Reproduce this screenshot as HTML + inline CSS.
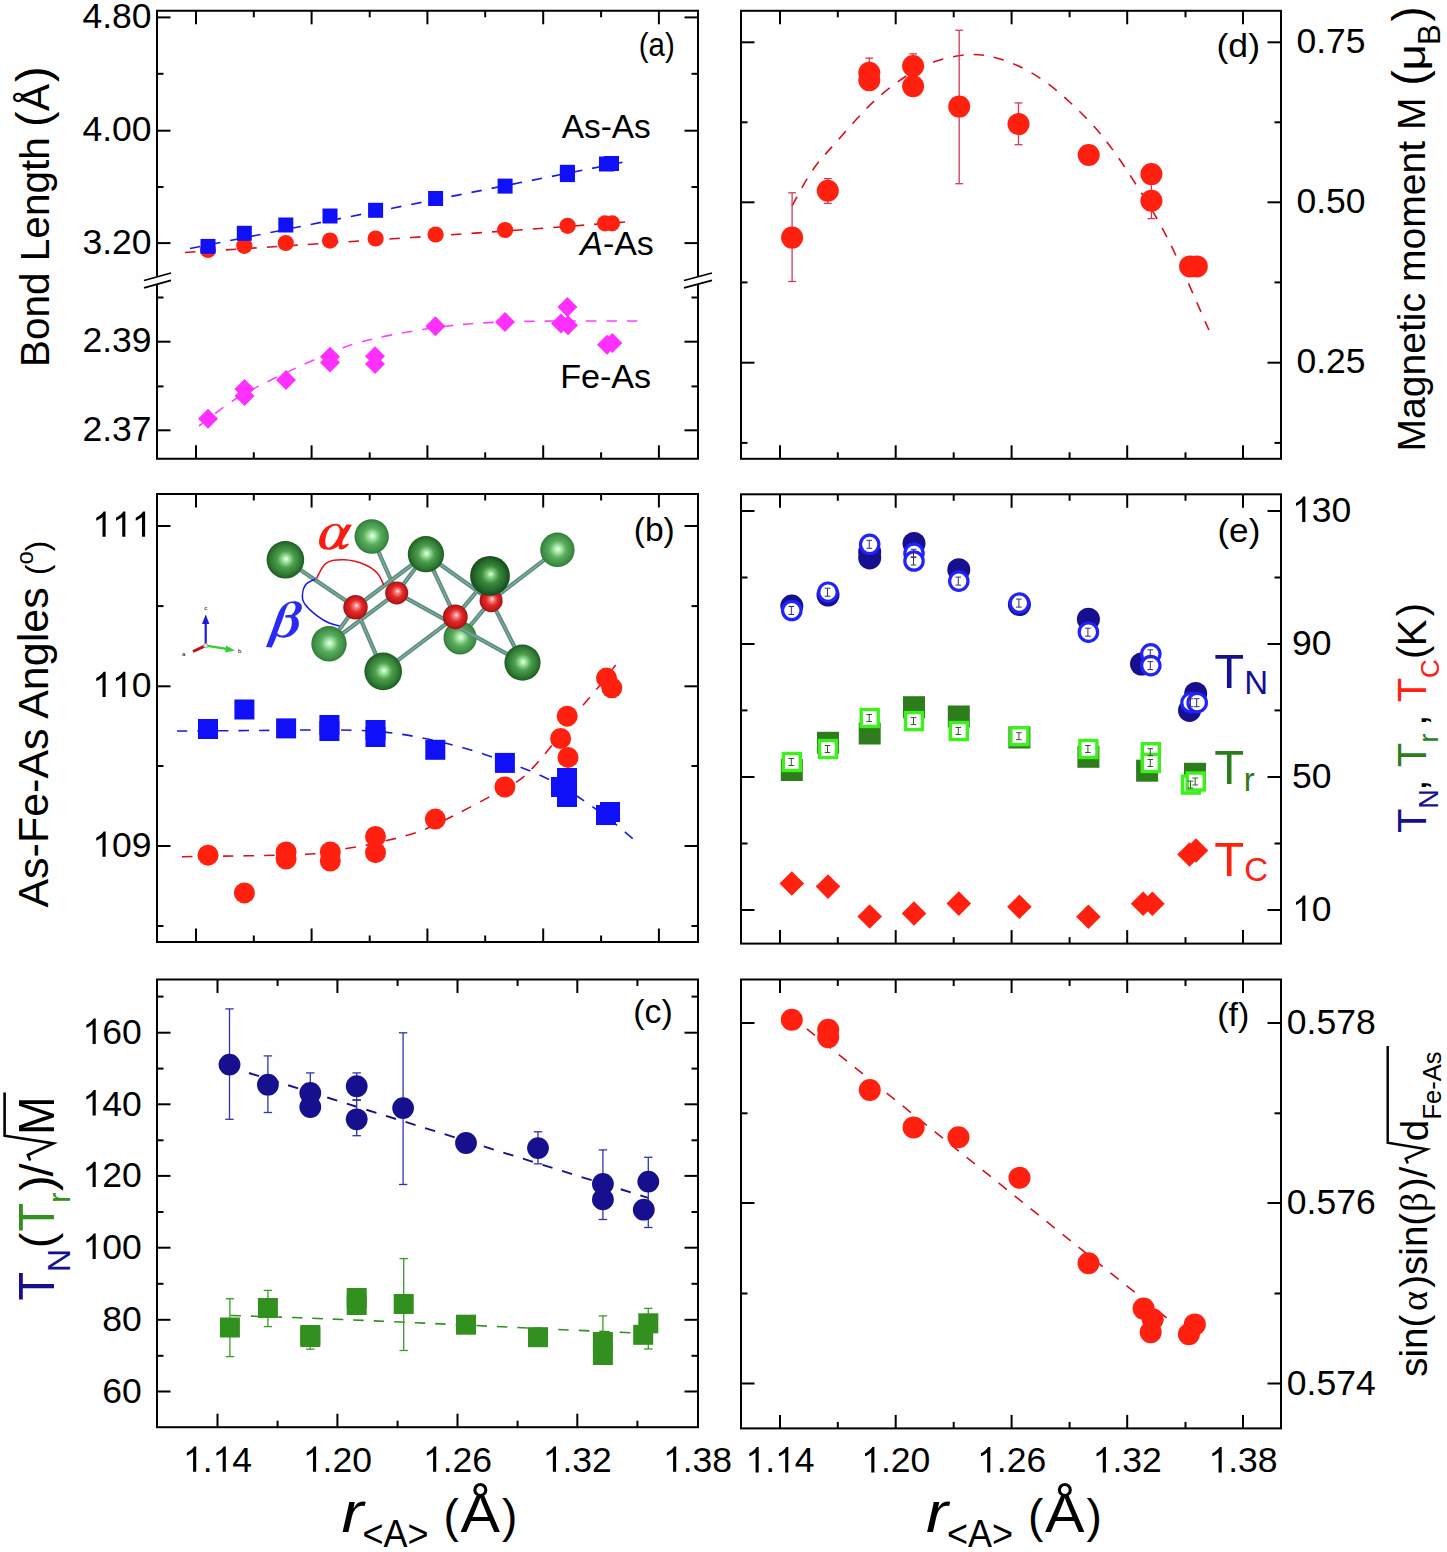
<!DOCTYPE html>
<html><head><meta charset="utf-8"><style>
html,body{margin:0;padding:0;background:#fefefe;}
svg{display:block;}
</style></head><body>
<svg width="1447" height="1552" viewBox="0 0 1447 1552">
<rect width="1447" height="1552" fill="#fefefe"/>
<line x1="196" y1="10.8" x2="196" y2="24.3" stroke="#000" stroke-width="2" />
<line x1="196" y1="458.8" x2="196" y2="445.3" stroke="#000" stroke-width="2" />
<line x1="311.6" y1="10.8" x2="311.6" y2="24.3" stroke="#000" stroke-width="2" />
<line x1="311.6" y1="458.8" x2="311.6" y2="445.3" stroke="#000" stroke-width="2" />
<line x1="427.4" y1="10.8" x2="427.4" y2="24.3" stroke="#000" stroke-width="2" />
<line x1="427.4" y1="458.8" x2="427.4" y2="445.3" stroke="#000" stroke-width="2" />
<line x1="543.2" y1="10.8" x2="543.2" y2="24.3" stroke="#000" stroke-width="2" />
<line x1="543.2" y1="458.8" x2="543.2" y2="445.3" stroke="#000" stroke-width="2" />
<line x1="658.9" y1="10.8" x2="658.9" y2="24.3" stroke="#000" stroke-width="2" />
<line x1="658.9" y1="458.8" x2="658.9" y2="445.3" stroke="#000" stroke-width="2" />
<line x1="253.8" y1="10.8" x2="253.8" y2="17.3" stroke="#000" stroke-width="2" />
<line x1="253.8" y1="458.8" x2="253.8" y2="452.3" stroke="#000" stroke-width="2" />
<line x1="369.7" y1="10.8" x2="369.7" y2="17.3" stroke="#000" stroke-width="2" />
<line x1="369.7" y1="458.8" x2="369.7" y2="452.3" stroke="#000" stroke-width="2" />
<line x1="485.2" y1="10.8" x2="485.2" y2="17.3" stroke="#000" stroke-width="2" />
<line x1="485.2" y1="458.8" x2="485.2" y2="452.3" stroke="#000" stroke-width="2" />
<line x1="601.1" y1="10.8" x2="601.1" y2="17.3" stroke="#000" stroke-width="2" />
<line x1="601.1" y1="458.8" x2="601.1" y2="452.3" stroke="#000" stroke-width="2" />
<line x1="157" y1="17.4" x2="170.5" y2="17.4" stroke="#000" stroke-width="2" />
<line x1="698" y1="17.4" x2="684.5" y2="17.4" stroke="#000" stroke-width="2" />
<line x1="157" y1="130.7" x2="170.5" y2="130.7" stroke="#000" stroke-width="2" />
<line x1="698" y1="130.7" x2="684.5" y2="130.7" stroke="#000" stroke-width="2" />
<line x1="157" y1="243.1" x2="170.5" y2="243.1" stroke="#000" stroke-width="2" />
<line x1="698" y1="243.1" x2="684.5" y2="243.1" stroke="#000" stroke-width="2" />
<line x1="157" y1="341.7" x2="170.5" y2="341.7" stroke="#000" stroke-width="2" />
<line x1="698" y1="341.7" x2="684.5" y2="341.7" stroke="#000" stroke-width="2" />
<line x1="157" y1="430.3" x2="170.5" y2="430.3" stroke="#000" stroke-width="2" />
<line x1="698" y1="430.3" x2="684.5" y2="430.3" stroke="#000" stroke-width="2" />
<line x1="157" y1="73.8" x2="163.5" y2="73.8" stroke="#000" stroke-width="2" />
<line x1="698" y1="73.8" x2="691.5" y2="73.8" stroke="#000" stroke-width="2" />
<line x1="157" y1="187" x2="163.5" y2="187" stroke="#000" stroke-width="2" />
<line x1="698" y1="187" x2="691.5" y2="187" stroke="#000" stroke-width="2" />
<line x1="157" y1="297.5" x2="163.5" y2="297.5" stroke="#000" stroke-width="2" />
<line x1="698" y1="297.5" x2="691.5" y2="297.5" stroke="#000" stroke-width="2" />
<line x1="157" y1="386.4" x2="163.5" y2="386.4" stroke="#000" stroke-width="2" />
<line x1="698" y1="386.4" x2="691.5" y2="386.4" stroke="#000" stroke-width="2" />
<line x1="156" y1="10.8" x2="699" y2="10.8" stroke="#000" stroke-width="2" />
<line x1="156" y1="458.8" x2="699" y2="458.8" stroke="#000" stroke-width="2" />
<line x1="157" y1="10.8" x2="157" y2="276" stroke="#000" stroke-width="2" />
<line x1="157" y1="284" x2="157" y2="458.8" stroke="#000" stroke-width="2" />
<line x1="698" y1="10.8" x2="698" y2="276" stroke="#000" stroke-width="2" />
<line x1="698" y1="284" x2="698" y2="458.8" stroke="#000" stroke-width="2" />
<line x1="144" y1="280.5" x2="171" y2="273" stroke="#000" stroke-width="1.8" />
<line x1="144" y1="287.8" x2="171" y2="280.3" stroke="#000" stroke-width="1.8" />
<line x1="684" y1="280.5" x2="712" y2="273" stroke="#000" stroke-width="1.8" />
<line x1="684" y1="287.8" x2="712" y2="280.3" stroke="#000" stroke-width="1.8" />
<text x="82.52 102.25 112.12 131.86" y="28" font-family='"Liberation Sans", sans-serif' font-size="35.5" fill="#000">4.80</text>
<text x="82.52 102.25 112.12 131.86" y="141.3" font-family='"Liberation Sans", sans-serif' font-size="35.5" fill="#000">4.00</text>
<text x="82.52 102.25 112.12 131.86" y="253.7" font-family='"Liberation Sans", sans-serif' font-size="35.5" fill="#000">3.20</text>
<text x="82.52 102.25 112.12 131.86" y="352.3" font-family='"Liberation Sans", sans-serif' font-size="35.5" fill="#000">2.39</text>
<text x="82.52 102.25 112.12 131.86" y="440.9" font-family='"Liberation Sans", sans-serif' font-size="35.5" fill="#000">2.37</text>
<text transform="translate(48.7,367) rotate(-90)" x="0" y="0" font-family='"Liberation Sans", sans-serif' font-size="40.5" fill="#000" >Bond Length</text>
<text x="638.8" y="55.6" font-family='"Liberation Sans", sans-serif' font-size="33" fill="#000" textLength="36" lengthAdjust="spacingAndGlyphs" >(a)</text>
<path d="M190,248.5 L629,161" fill="none" stroke="#1a1ae0" stroke-width="1.6" stroke-dasharray="10.5 10" stroke-dashoffset="0"/>
<path d="M185,252.5 C209.17,250.92 276.67,246.58 330,243 C383.33,239.42 454.67,234.58 505,231 C555.33,227.42 610.83,223.08 632,221.5" fill="none" stroke="#d8101e" stroke-width="1.6" stroke-dasharray="10.5 10" stroke-dashoffset="0"/>
<path d="M199,426 C206.5,420.67 223.33,405.67 244,394 C264.67,382.33 301.5,365.17 323,356 C344.5,346.83 352.17,344 373,339 C393.83,334 423.5,328.92 448,326 C472.5,323.08 487.67,322.33 520,321.5 C552.33,320.67 621.67,321.08 642,321" fill="none" stroke="#ff40ff" stroke-width="1.6" stroke-dasharray="10.5 10" stroke-dashoffset="0"/>
<circle cx="208" cy="250" r="8.1" fill="#ff2010"/>
<circle cx="244.3" cy="245.8" r="8.1" fill="#ff2010"/>
<circle cx="285.8" cy="243" r="8.1" fill="#ff2010"/>
<circle cx="330" cy="240.6" r="8.1" fill="#ff2010"/>
<circle cx="375.6" cy="238.5" r="8.1" fill="#ff2010"/>
<circle cx="435.6" cy="234.5" r="8.1" fill="#ff2010"/>
<circle cx="505.1" cy="230" r="8.1" fill="#ff2010"/>
<circle cx="567.6" cy="225.8" r="8.1" fill="#ff2010"/>
<circle cx="605" cy="223.3" r="8.1" fill="#ff2010"/>
<circle cx="612" cy="223.3" r="8.1" fill="#ff2010"/>
<rect x="200.5" y="238.9" width="15" height="15" fill="#1010f8"/>
<rect x="236.8" y="225.8" width="15" height="15" fill="#1010f8"/>
<rect x="278.3" y="217.5" width="15" height="15" fill="#1010f8"/>
<rect x="322.5" y="208.5" width="15" height="15" fill="#1010f8"/>
<rect x="368.1" y="202.8" width="15" height="15" fill="#1010f8"/>
<rect x="428.1" y="191" width="15" height="15" fill="#1010f8"/>
<rect x="497.6" y="178.6" width="15" height="15" fill="#1010f8"/>
<rect x="559.9" y="164.8" width="15" height="15" fill="#1010f8"/>
<rect x="559.9" y="167.1" width="15" height="15" fill="#1010f8"/>
<rect x="599" y="156.5" width="15" height="15" fill="#1010f8"/>
<rect x="604" y="156" width="15" height="15" fill="#1010f8"/>
<polygon points="208,408.7 218,418.7 208,428.7 198,418.7" fill="#ff30ff"/>
<polygon points="244.5,379 254.5,389 244.5,399 234.5,389" fill="#ff30ff"/>
<polygon points="244.5,386 254.5,396 244.5,406 234.5,396" fill="#ff30ff"/>
<polygon points="286,370 296,380 286,390 276,380" fill="#ff30ff"/>
<polygon points="330,346.7 340,356.7 330,366.7 320,356.7" fill="#ff30ff"/>
<polygon points="330,352.6 340,362.6 330,372.6 320,362.6" fill="#ff30ff"/>
<polygon points="375,346.2 385,356.2 375,366.2 365,356.2" fill="#ff30ff"/>
<polygon points="375,353.9 385,363.9 375,373.9 365,363.9" fill="#ff30ff"/>
<polygon points="435.4,316.3 445.4,326.3 435.4,336.3 425.4,326.3" fill="#ff30ff"/>
<polygon points="505,311.9 515,321.9 505,331.9 495,321.9" fill="#ff30ff"/>
<polygon points="567.4,296.9 577.4,306.9 567.4,316.9 557.4,306.9" fill="#ff30ff"/>
<polygon points="561,313.5 571,323.5 561,333.5 551,323.5" fill="#ff30ff"/>
<polygon points="568,315.2 578,325.2 568,335.2 558,325.2" fill="#ff30ff"/>
<polygon points="607,334.7 617,344.7 607,354.7 597,344.7" fill="#ff30ff"/>
<polygon points="612.3,333 622.3,343 612.3,353 602.3,343" fill="#ff30ff"/>
<text x="561.8" y="137.7" font-family='"Liberation Sans", sans-serif' font-size="33" fill="#000" textLength="89" lengthAdjust="spacingAndGlyphs" >As-As</text>
<text x="580.3" y="254.8" font-family='"Liberation Sans", sans-serif' font-size="33" fill="#000" textLength="73.5" lengthAdjust="spacingAndGlyphs" ><tspan font-style="italic">A</tspan>-As</text>
<text x="560.2" y="387.8" font-family='"Liberation Sans", sans-serif' font-size="33" fill="#000" textLength="91" lengthAdjust="spacingAndGlyphs" >Fe-As</text>
<line x1="196" y1="494" x2="196" y2="507.5" stroke="#000" stroke-width="2" />
<line x1="196" y1="942" x2="196" y2="928.5" stroke="#000" stroke-width="2" />
<line x1="311.6" y1="494" x2="311.6" y2="507.5" stroke="#000" stroke-width="2" />
<line x1="311.6" y1="942" x2="311.6" y2="928.5" stroke="#000" stroke-width="2" />
<line x1="427.4" y1="494" x2="427.4" y2="507.5" stroke="#000" stroke-width="2" />
<line x1="427.4" y1="942" x2="427.4" y2="928.5" stroke="#000" stroke-width="2" />
<line x1="543.2" y1="494" x2="543.2" y2="507.5" stroke="#000" stroke-width="2" />
<line x1="543.2" y1="942" x2="543.2" y2="928.5" stroke="#000" stroke-width="2" />
<line x1="658.9" y1="494" x2="658.9" y2="507.5" stroke="#000" stroke-width="2" />
<line x1="658.9" y1="942" x2="658.9" y2="928.5" stroke="#000" stroke-width="2" />
<line x1="253.8" y1="494" x2="253.8" y2="500.5" stroke="#000" stroke-width="2" />
<line x1="253.8" y1="942" x2="253.8" y2="935.5" stroke="#000" stroke-width="2" />
<line x1="369.7" y1="494" x2="369.7" y2="500.5" stroke="#000" stroke-width="2" />
<line x1="369.7" y1="942" x2="369.7" y2="935.5" stroke="#000" stroke-width="2" />
<line x1="485.2" y1="494" x2="485.2" y2="500.5" stroke="#000" stroke-width="2" />
<line x1="485.2" y1="942" x2="485.2" y2="935.5" stroke="#000" stroke-width="2" />
<line x1="601.1" y1="494" x2="601.1" y2="500.5" stroke="#000" stroke-width="2" />
<line x1="601.1" y1="942" x2="601.1" y2="935.5" stroke="#000" stroke-width="2" />
<line x1="157" y1="526" x2="170.5" y2="526" stroke="#000" stroke-width="2" />
<line x1="698" y1="526" x2="684.5" y2="526" stroke="#000" stroke-width="2" />
<line x1="157" y1="686.3" x2="170.5" y2="686.3" stroke="#000" stroke-width="2" />
<line x1="698" y1="686.3" x2="684.5" y2="686.3" stroke="#000" stroke-width="2" />
<line x1="157" y1="846" x2="170.5" y2="846" stroke="#000" stroke-width="2" />
<line x1="698" y1="846" x2="684.5" y2="846" stroke="#000" stroke-width="2" />
<line x1="157" y1="606.1" x2="163.5" y2="606.1" stroke="#000" stroke-width="2" />
<line x1="698" y1="606.1" x2="691.5" y2="606.1" stroke="#000" stroke-width="2" />
<line x1="157" y1="766" x2="163.5" y2="766" stroke="#000" stroke-width="2" />
<line x1="698" y1="766" x2="691.5" y2="766" stroke="#000" stroke-width="2" />
<line x1="157" y1="926" x2="163.5" y2="926" stroke="#000" stroke-width="2" />
<line x1="698" y1="926" x2="691.5" y2="926" stroke="#000" stroke-width="2" />
<rect x="157" y="494" width="541" height="448" fill="none" stroke="#000" stroke-width="2"/>
<path d="M0.373,0 L0.285,0 L0.285,-0.560 C0.264,-0.540 0.236,-0.519 0.201,-0.499 C0.167,-0.478 0.136,-0.463 0.109,-0.453 L0.109,-0.538 C0.158,-0.561 0.201,-0.589 0.238,-0.622 C0.275,-0.655 0.301,-0.687 0.316,-0.716 L0.373,-0.716 Z" transform="translate(92.39,536.8) scale(35.5)" fill="#000"/>
<path d="M0.373,0 L0.285,0 L0.285,-0.560 C0.264,-0.540 0.236,-0.519 0.201,-0.499 C0.167,-0.478 0.136,-0.463 0.109,-0.453 L0.109,-0.538 C0.158,-0.561 0.201,-0.589 0.238,-0.622 C0.275,-0.655 0.301,-0.687 0.316,-0.716 L0.373,-0.716 Z" transform="translate(112.12,536.8) scale(35.5)" fill="#000"/>
<path d="M0.373,0 L0.285,0 L0.285,-0.560 C0.264,-0.540 0.236,-0.519 0.201,-0.499 C0.167,-0.478 0.136,-0.463 0.109,-0.453 L0.109,-0.538 C0.158,-0.561 0.201,-0.589 0.238,-0.622 C0.275,-0.655 0.301,-0.687 0.316,-0.716 L0.373,-0.716 Z" transform="translate(131.86,536.8) scale(35.5)" fill="#000"/>
<path d="M0.373,0 L0.285,0 L0.285,-0.560 C0.264,-0.540 0.236,-0.519 0.201,-0.499 C0.167,-0.478 0.136,-0.463 0.109,-0.453 L0.109,-0.538 C0.158,-0.561 0.201,-0.589 0.238,-0.622 C0.275,-0.655 0.301,-0.687 0.316,-0.716 L0.373,-0.716 Z" transform="translate(92.39,697.1) scale(35.5)" fill="#000"/>
<path d="M0.373,0 L0.285,0 L0.285,-0.560 C0.264,-0.540 0.236,-0.519 0.201,-0.499 C0.167,-0.478 0.136,-0.463 0.109,-0.453 L0.109,-0.538 C0.158,-0.561 0.201,-0.589 0.238,-0.622 C0.275,-0.655 0.301,-0.687 0.316,-0.716 L0.373,-0.716 Z" transform="translate(112.12,697.1) scale(35.5)" fill="#000"/>
<text x="131.86" y="697.1" font-family='"Liberation Sans", sans-serif' font-size="35.5" fill="#000">0</text>
<path d="M0.373,0 L0.285,0 L0.285,-0.560 C0.264,-0.540 0.236,-0.519 0.201,-0.499 C0.167,-0.478 0.136,-0.463 0.109,-0.453 L0.109,-0.538 C0.158,-0.561 0.201,-0.589 0.238,-0.622 C0.275,-0.655 0.301,-0.687 0.316,-0.716 L0.373,-0.716 Z" transform="translate(92.39,856.8) scale(35.5)" fill="#000"/>
<text x="112.12 131.86" y="856.8" font-family='"Liberation Sans", sans-serif' font-size="35.5" fill="#000">09</text>
<text x="633.8" y="541.2" font-family='"Liberation Sans", sans-serif' font-size="33" fill="#000" textLength="41" lengthAdjust="spacingAndGlyphs" >(b)</text>
<text transform="translate(48.4,907.6) rotate(-90)" x="0" y="0" font-family='"Liberation Sans", sans-serif' font-size="43" fill="#000" >As-Fe-As Angles</text>
<line x1="217.5" y1="979.5" x2="217.5" y2="993" stroke="#000" stroke-width="2" />
<line x1="217.5" y1="1427.2" x2="217.5" y2="1413.7" stroke="#000" stroke-width="2" />
<line x1="337.4" y1="979.5" x2="337.4" y2="993" stroke="#000" stroke-width="2" />
<line x1="337.4" y1="1427.2" x2="337.4" y2="1413.7" stroke="#000" stroke-width="2" />
<line x1="457.5" y1="979.5" x2="457.5" y2="993" stroke="#000" stroke-width="2" />
<line x1="457.5" y1="1427.2" x2="457.5" y2="1413.7" stroke="#000" stroke-width="2" />
<line x1="577.3" y1="979.5" x2="577.3" y2="993" stroke="#000" stroke-width="2" />
<line x1="577.3" y1="1427.2" x2="577.3" y2="1413.7" stroke="#000" stroke-width="2" />
<line x1="277.6" y1="979.5" x2="277.6" y2="986" stroke="#000" stroke-width="2" />
<line x1="277.6" y1="1427.2" x2="277.6" y2="1420.7" stroke="#000" stroke-width="2" />
<line x1="397.6" y1="979.5" x2="397.6" y2="986" stroke="#000" stroke-width="2" />
<line x1="397.6" y1="1427.2" x2="397.6" y2="1420.7" stroke="#000" stroke-width="2" />
<line x1="517.6" y1="979.5" x2="517.6" y2="986" stroke="#000" stroke-width="2" />
<line x1="517.6" y1="1427.2" x2="517.6" y2="1420.7" stroke="#000" stroke-width="2" />
<line x1="637.4" y1="979.5" x2="637.4" y2="986" stroke="#000" stroke-width="2" />
<line x1="637.4" y1="1427.2" x2="637.4" y2="1420.7" stroke="#000" stroke-width="2" />
<line x1="157" y1="1032.7" x2="170.5" y2="1032.7" stroke="#000" stroke-width="2" />
<line x1="698" y1="1032.7" x2="684.5" y2="1032.7" stroke="#000" stroke-width="2" />
<line x1="157" y1="1104.3" x2="170.5" y2="1104.3" stroke="#000" stroke-width="2" />
<line x1="698" y1="1104.3" x2="684.5" y2="1104.3" stroke="#000" stroke-width="2" />
<line x1="157" y1="1175.9" x2="170.5" y2="1175.9" stroke="#000" stroke-width="2" />
<line x1="698" y1="1175.9" x2="684.5" y2="1175.9" stroke="#000" stroke-width="2" />
<line x1="157" y1="1247.7" x2="170.5" y2="1247.7" stroke="#000" stroke-width="2" />
<line x1="698" y1="1247.7" x2="684.5" y2="1247.7" stroke="#000" stroke-width="2" />
<line x1="157" y1="1319.8" x2="170.5" y2="1319.8" stroke="#000" stroke-width="2" />
<line x1="698" y1="1319.8" x2="684.5" y2="1319.8" stroke="#000" stroke-width="2" />
<line x1="157" y1="1391.5" x2="170.5" y2="1391.5" stroke="#000" stroke-width="2" />
<line x1="698" y1="1391.5" x2="684.5" y2="1391.5" stroke="#000" stroke-width="2" />
<line x1="157" y1="996.6" x2="163.5" y2="996.6" stroke="#000" stroke-width="2" />
<line x1="698" y1="996.6" x2="691.5" y2="996.6" stroke="#000" stroke-width="2" />
<line x1="157" y1="1068.6" x2="163.5" y2="1068.6" stroke="#000" stroke-width="2" />
<line x1="698" y1="1068.6" x2="691.5" y2="1068.6" stroke="#000" stroke-width="2" />
<line x1="157" y1="1140.3" x2="163.5" y2="1140.3" stroke="#000" stroke-width="2" />
<line x1="698" y1="1140.3" x2="691.5" y2="1140.3" stroke="#000" stroke-width="2" />
<line x1="157" y1="1212" x2="163.5" y2="1212" stroke="#000" stroke-width="2" />
<line x1="698" y1="1212" x2="691.5" y2="1212" stroke="#000" stroke-width="2" />
<line x1="157" y1="1283.8" x2="163.5" y2="1283.8" stroke="#000" stroke-width="2" />
<line x1="698" y1="1283.8" x2="691.5" y2="1283.8" stroke="#000" stroke-width="2" />
<line x1="157" y1="1355.8" x2="163.5" y2="1355.8" stroke="#000" stroke-width="2" />
<line x1="698" y1="1355.8" x2="691.5" y2="1355.8" stroke="#000" stroke-width="2" />
<rect x="157" y="979.5" width="541" height="447.7" fill="none" stroke="#000" stroke-width="2"/>
<path d="M0.373,0 L0.285,0 L0.285,-0.560 C0.264,-0.540 0.236,-0.519 0.201,-0.499 C0.167,-0.478 0.136,-0.463 0.109,-0.453 L0.109,-0.538 C0.158,-0.561 0.201,-0.589 0.238,-0.622 C0.275,-0.655 0.301,-0.687 0.316,-0.716 L0.373,-0.716 Z" transform="translate(82.49,1043.9) scale(35.5)" fill="#000"/>
<text x="102.22 121.96" y="1043.9" font-family='"Liberation Sans", sans-serif' font-size="35.5" fill="#000">60</text>
<path d="M0.373,0 L0.285,0 L0.285,-0.560 C0.264,-0.540 0.236,-0.519 0.201,-0.499 C0.167,-0.478 0.136,-0.463 0.109,-0.453 L0.109,-0.538 C0.158,-0.561 0.201,-0.589 0.238,-0.622 C0.275,-0.655 0.301,-0.687 0.316,-0.716 L0.373,-0.716 Z" transform="translate(82.49,1115.5) scale(35.5)" fill="#000"/>
<text x="102.22 121.96" y="1115.5" font-family='"Liberation Sans", sans-serif' font-size="35.5" fill="#000">40</text>
<path d="M0.373,0 L0.285,0 L0.285,-0.560 C0.264,-0.540 0.236,-0.519 0.201,-0.499 C0.167,-0.478 0.136,-0.463 0.109,-0.453 L0.109,-0.538 C0.158,-0.561 0.201,-0.589 0.238,-0.622 C0.275,-0.655 0.301,-0.687 0.316,-0.716 L0.373,-0.716 Z" transform="translate(82.49,1187.1) scale(35.5)" fill="#000"/>
<text x="102.22 121.96" y="1187.1" font-family='"Liberation Sans", sans-serif' font-size="35.5" fill="#000">20</text>
<path d="M0.373,0 L0.285,0 L0.285,-0.560 C0.264,-0.540 0.236,-0.519 0.201,-0.499 C0.167,-0.478 0.136,-0.463 0.109,-0.453 L0.109,-0.538 C0.158,-0.561 0.201,-0.589 0.238,-0.622 C0.275,-0.655 0.301,-0.687 0.316,-0.716 L0.373,-0.716 Z" transform="translate(82.49,1258.9) scale(35.5)" fill="#000"/>
<text x="102.22 121.96" y="1258.9" font-family='"Liberation Sans", sans-serif' font-size="35.5" fill="#000">00</text>
<text x="102.22 121.96" y="1331" font-family='"Liberation Sans", sans-serif' font-size="35.5" fill="#000">80</text>
<text x="102.22 121.96" y="1402.7" font-family='"Liberation Sans", sans-serif' font-size="35.5" fill="#000">60</text>
<text x="633.3" y="1022.5" font-family='"Liberation Sans", sans-serif' font-size="33" fill="#000" textLength="39.5" lengthAdjust="spacingAndGlyphs" >(c)</text>
<path d="M0.373,0 L0.285,0 L0.285,-0.560 C0.264,-0.540 0.236,-0.519 0.201,-0.499 C0.167,-0.478 0.136,-0.463 0.109,-0.453 L0.109,-0.538 C0.158,-0.561 0.201,-0.589 0.238,-0.622 C0.275,-0.655 0.301,-0.687 0.316,-0.716 L0.373,-0.716 Z" transform="translate(182.96,1471.8) scale(35.5)" fill="#000"/>
<path d="M0.373,0 L0.285,0 L0.285,-0.560 C0.264,-0.540 0.236,-0.519 0.201,-0.499 C0.167,-0.478 0.136,-0.463 0.109,-0.453 L0.109,-0.538 C0.158,-0.561 0.201,-0.589 0.238,-0.622 C0.275,-0.655 0.301,-0.687 0.316,-0.716 L0.373,-0.716 Z" transform="translate(212.57,1471.8) scale(35.5)" fill="#000"/>
<text x="202.7 232.3" y="1471.8" font-family='"Liberation Sans", sans-serif' font-size="35.5" fill="#000">.4</text>
<path d="M0.373,0 L0.285,0 L0.285,-0.560 C0.264,-0.540 0.236,-0.519 0.201,-0.499 C0.167,-0.478 0.136,-0.463 0.109,-0.453 L0.109,-0.538 C0.158,-0.561 0.201,-0.589 0.238,-0.622 C0.275,-0.655 0.301,-0.687 0.316,-0.716 L0.373,-0.716 Z" transform="translate(302.86,1471.8) scale(35.5)" fill="#000"/>
<text x="322.6 332.47 352.2" y="1471.8" font-family='"Liberation Sans", sans-serif' font-size="35.5" fill="#000">.20</text>
<path d="M0.373,0 L0.285,0 L0.285,-0.560 C0.264,-0.540 0.236,-0.519 0.201,-0.499 C0.167,-0.478 0.136,-0.463 0.109,-0.453 L0.109,-0.538 C0.158,-0.561 0.201,-0.589 0.238,-0.622 C0.275,-0.655 0.301,-0.687 0.316,-0.716 L0.373,-0.716 Z" transform="translate(422.96,1471.8) scale(35.5)" fill="#000"/>
<text x="442.7 452.57 472.3" y="1471.8" font-family='"Liberation Sans", sans-serif' font-size="35.5" fill="#000">.26</text>
<path d="M0.373,0 L0.285,0 L0.285,-0.560 C0.264,-0.540 0.236,-0.519 0.201,-0.499 C0.167,-0.478 0.136,-0.463 0.109,-0.453 L0.109,-0.538 C0.158,-0.561 0.201,-0.589 0.238,-0.622 C0.275,-0.655 0.301,-0.687 0.316,-0.716 L0.373,-0.716 Z" transform="translate(542.76,1471.8) scale(35.5)" fill="#000"/>
<text x="562.5 572.37 592.1" y="1471.8" font-family='"Liberation Sans", sans-serif' font-size="35.5" fill="#000">.32</text>
<path d="M0.373,0 L0.285,0 L0.285,-0.560 C0.264,-0.540 0.236,-0.519 0.201,-0.499 C0.167,-0.478 0.136,-0.463 0.109,-0.453 L0.109,-0.538 C0.158,-0.561 0.201,-0.589 0.238,-0.622 C0.275,-0.655 0.301,-0.687 0.316,-0.716 L0.373,-0.716 Z" transform="translate(662.96,1471.8) scale(35.5)" fill="#000"/>
<text x="682.7 692.57 712.3" y="1471.8" font-family='"Liberation Sans", sans-serif' font-size="35.5" fill="#000">.38</text>
<path d="M0.373,0 L0.285,0 L0.285,-0.560 C0.264,-0.540 0.236,-0.519 0.201,-0.499 C0.167,-0.478 0.136,-0.463 0.109,-0.453 L0.109,-0.538 C0.158,-0.561 0.201,-0.589 0.238,-0.622 C0.275,-0.655 0.301,-0.687 0.316,-0.716 L0.373,-0.716 Z" transform="translate(745.46,1472.4) scale(35.5)" fill="#000"/>
<path d="M0.373,0 L0.285,0 L0.285,-0.560 C0.264,-0.540 0.236,-0.519 0.201,-0.499 C0.167,-0.478 0.136,-0.463 0.109,-0.453 L0.109,-0.538 C0.158,-0.561 0.201,-0.589 0.238,-0.622 C0.275,-0.655 0.301,-0.687 0.316,-0.716 L0.373,-0.716 Z" transform="translate(775.07,1472.4) scale(35.5)" fill="#000"/>
<text x="765.2 794.8" y="1472.4" font-family='"Liberation Sans", sans-serif' font-size="35.5" fill="#000">.4</text>
<path d="M0.373,0 L0.285,0 L0.285,-0.560 C0.264,-0.540 0.236,-0.519 0.201,-0.499 C0.167,-0.478 0.136,-0.463 0.109,-0.453 L0.109,-0.538 C0.158,-0.561 0.201,-0.589 0.238,-0.622 C0.275,-0.655 0.301,-0.687 0.316,-0.716 L0.373,-0.716 Z" transform="translate(861.16,1472.4) scale(35.5)" fill="#000"/>
<text x="880.9 890.77 910.5" y="1472.4" font-family='"Liberation Sans", sans-serif' font-size="35.5" fill="#000">.20</text>
<path d="M0.373,0 L0.285,0 L0.285,-0.560 C0.264,-0.540 0.236,-0.519 0.201,-0.499 C0.167,-0.478 0.136,-0.463 0.109,-0.453 L0.109,-0.538 C0.158,-0.561 0.201,-0.589 0.238,-0.622 C0.275,-0.655 0.301,-0.687 0.316,-0.716 L0.373,-0.716 Z" transform="translate(977.06,1472.4) scale(35.5)" fill="#000"/>
<text x="996.8 1006.67 1026.4" y="1472.4" font-family='"Liberation Sans", sans-serif' font-size="35.5" fill="#000">.26</text>
<path d="M0.373,0 L0.285,0 L0.285,-0.560 C0.264,-0.540 0.236,-0.519 0.201,-0.499 C0.167,-0.478 0.136,-0.463 0.109,-0.453 L0.109,-0.538 C0.158,-0.561 0.201,-0.589 0.238,-0.622 C0.275,-0.655 0.301,-0.687 0.316,-0.716 L0.373,-0.716 Z" transform="translate(1092.66,1472.4) scale(35.5)" fill="#000"/>
<text x="1112.4 1122.27 1142" y="1472.4" font-family='"Liberation Sans", sans-serif' font-size="35.5" fill="#000">.32</text>
<path d="M0.373,0 L0.285,0 L0.285,-0.560 C0.264,-0.540 0.236,-0.519 0.201,-0.499 C0.167,-0.478 0.136,-0.463 0.109,-0.453 L0.109,-0.538 C0.158,-0.561 0.201,-0.589 0.238,-0.622 C0.275,-0.655 0.301,-0.687 0.316,-0.716 L0.373,-0.716 Z" transform="translate(1208.46,1472.4) scale(35.5)" fill="#000"/>
<text x="1228.2 1238.07 1257.8" y="1472.4" font-family='"Liberation Sans", sans-serif' font-size="35.5" fill="#000">.38</text>
<line x1="780" y1="10.8" x2="780" y2="24.3" stroke="#000" stroke-width="2" />
<line x1="780" y1="458.8" x2="780" y2="445.3" stroke="#000" stroke-width="2" />
<line x1="895.7" y1="10.8" x2="895.7" y2="24.3" stroke="#000" stroke-width="2" />
<line x1="895.7" y1="458.8" x2="895.7" y2="445.3" stroke="#000" stroke-width="2" />
<line x1="1011.6" y1="10.8" x2="1011.6" y2="24.3" stroke="#000" stroke-width="2" />
<line x1="1011.6" y1="458.8" x2="1011.6" y2="445.3" stroke="#000" stroke-width="2" />
<line x1="1127.2" y1="10.8" x2="1127.2" y2="24.3" stroke="#000" stroke-width="2" />
<line x1="1127.2" y1="458.8" x2="1127.2" y2="445.3" stroke="#000" stroke-width="2" />
<line x1="1243" y1="10.8" x2="1243" y2="24.3" stroke="#000" stroke-width="2" />
<line x1="1243" y1="458.8" x2="1243" y2="445.3" stroke="#000" stroke-width="2" />
<line x1="837.8" y1="10.8" x2="837.8" y2="17.3" stroke="#000" stroke-width="2" />
<line x1="837.8" y1="458.8" x2="837.8" y2="452.3" stroke="#000" stroke-width="2" />
<line x1="953.7" y1="10.8" x2="953.7" y2="17.3" stroke="#000" stroke-width="2" />
<line x1="953.7" y1="458.8" x2="953.7" y2="452.3" stroke="#000" stroke-width="2" />
<line x1="1069.6" y1="10.8" x2="1069.6" y2="17.3" stroke="#000" stroke-width="2" />
<line x1="1069.6" y1="458.8" x2="1069.6" y2="452.3" stroke="#000" stroke-width="2" />
<line x1="1185.5" y1="10.8" x2="1185.5" y2="17.3" stroke="#000" stroke-width="2" />
<line x1="1185.5" y1="458.8" x2="1185.5" y2="452.3" stroke="#000" stroke-width="2" />
<line x1="741" y1="42.3" x2="754.5" y2="42.3" stroke="#000" stroke-width="2" />
<line x1="1281" y1="42.3" x2="1267.5" y2="42.3" stroke="#000" stroke-width="2" />
<line x1="741" y1="202.3" x2="754.5" y2="202.3" stroke="#000" stroke-width="2" />
<line x1="1281" y1="202.3" x2="1267.5" y2="202.3" stroke="#000" stroke-width="2" />
<line x1="741" y1="362.7" x2="754.5" y2="362.7" stroke="#000" stroke-width="2" />
<line x1="1281" y1="362.7" x2="1267.5" y2="362.7" stroke="#000" stroke-width="2" />
<line x1="741" y1="122.3" x2="747.5" y2="122.3" stroke="#000" stroke-width="2" />
<line x1="1281" y1="122.3" x2="1274.5" y2="122.3" stroke="#000" stroke-width="2" />
<line x1="741" y1="282.4" x2="747.5" y2="282.4" stroke="#000" stroke-width="2" />
<line x1="1281" y1="282.4" x2="1274.5" y2="282.4" stroke="#000" stroke-width="2" />
<line x1="741" y1="442.9" x2="747.5" y2="442.9" stroke="#000" stroke-width="2" />
<line x1="1281" y1="442.9" x2="1274.5" y2="442.9" stroke="#000" stroke-width="2" />
<rect x="741" y="10.8" width="540" height="448" fill="none" stroke="#000" stroke-width="2"/>
<text x="1296.5 1316.24 1326.11 1345.85" y="52.7" font-family='"Liberation Sans", sans-serif' font-size="35.5" fill="#000">0.75</text>
<text x="1296.5 1316.24 1326.11 1345.85" y="212.7" font-family='"Liberation Sans", sans-serif' font-size="35.5" fill="#000">0.50</text>
<text x="1296.5 1316.24 1326.11 1345.85" y="373.1" font-family='"Liberation Sans", sans-serif' font-size="35.5" fill="#000">0.25</text>
<text x="1216.5" y="57.2" font-family='"Liberation Sans", sans-serif' font-size="33" fill="#000" textLength="43.5" lengthAdjust="spacingAndGlyphs" >(d)</text>
<line x1="780" y1="494.3" x2="780" y2="507.8" stroke="#000" stroke-width="2" />
<line x1="780" y1="943.6" x2="780" y2="930.1" stroke="#000" stroke-width="2" />
<line x1="895.7" y1="494.3" x2="895.7" y2="507.8" stroke="#000" stroke-width="2" />
<line x1="895.7" y1="943.6" x2="895.7" y2="930.1" stroke="#000" stroke-width="2" />
<line x1="1011.6" y1="494.3" x2="1011.6" y2="507.8" stroke="#000" stroke-width="2" />
<line x1="1011.6" y1="943.6" x2="1011.6" y2="930.1" stroke="#000" stroke-width="2" />
<line x1="1127.2" y1="494.3" x2="1127.2" y2="507.8" stroke="#000" stroke-width="2" />
<line x1="1127.2" y1="943.6" x2="1127.2" y2="930.1" stroke="#000" stroke-width="2" />
<line x1="1243" y1="494.3" x2="1243" y2="507.8" stroke="#000" stroke-width="2" />
<line x1="1243" y1="943.6" x2="1243" y2="930.1" stroke="#000" stroke-width="2" />
<line x1="837.8" y1="494.3" x2="837.8" y2="500.8" stroke="#000" stroke-width="2" />
<line x1="837.8" y1="943.6" x2="837.8" y2="937.1" stroke="#000" stroke-width="2" />
<line x1="953.7" y1="494.3" x2="953.7" y2="500.8" stroke="#000" stroke-width="2" />
<line x1="953.7" y1="943.6" x2="953.7" y2="937.1" stroke="#000" stroke-width="2" />
<line x1="1069.6" y1="494.3" x2="1069.6" y2="500.8" stroke="#000" stroke-width="2" />
<line x1="1069.6" y1="943.6" x2="1069.6" y2="937.1" stroke="#000" stroke-width="2" />
<line x1="1185.5" y1="494.3" x2="1185.5" y2="500.8" stroke="#000" stroke-width="2" />
<line x1="1185.5" y1="943.6" x2="1185.5" y2="937.1" stroke="#000" stroke-width="2" />
<line x1="741" y1="511" x2="754.5" y2="511" stroke="#000" stroke-width="2" />
<line x1="1281" y1="511" x2="1267.5" y2="511" stroke="#000" stroke-width="2" />
<line x1="741" y1="644" x2="754.5" y2="644" stroke="#000" stroke-width="2" />
<line x1="1281" y1="644" x2="1267.5" y2="644" stroke="#000" stroke-width="2" />
<line x1="741" y1="777" x2="754.5" y2="777" stroke="#000" stroke-width="2" />
<line x1="1281" y1="777" x2="1267.5" y2="777" stroke="#000" stroke-width="2" />
<line x1="741" y1="910" x2="754.5" y2="910" stroke="#000" stroke-width="2" />
<line x1="1281" y1="910" x2="1267.5" y2="910" stroke="#000" stroke-width="2" />
<line x1="741" y1="577.5" x2="747.5" y2="577.5" stroke="#000" stroke-width="2" />
<line x1="1281" y1="577.5" x2="1274.5" y2="577.5" stroke="#000" stroke-width="2" />
<line x1="741" y1="710.4" x2="747.5" y2="710.4" stroke="#000" stroke-width="2" />
<line x1="1281" y1="710.4" x2="1274.5" y2="710.4" stroke="#000" stroke-width="2" />
<line x1="741" y1="843.5" x2="747.5" y2="843.5" stroke="#000" stroke-width="2" />
<line x1="1281" y1="843.5" x2="1274.5" y2="843.5" stroke="#000" stroke-width="2" />
<rect x="741" y="494.3" width="540" height="449.3" fill="none" stroke="#000" stroke-width="2"/>
<path d="M0.373,0 L0.285,0 L0.285,-0.560 C0.264,-0.540 0.236,-0.519 0.201,-0.499 C0.167,-0.478 0.136,-0.463 0.109,-0.453 L0.109,-0.538 C0.158,-0.561 0.201,-0.589 0.238,-0.622 C0.275,-0.655 0.301,-0.687 0.316,-0.716 L0.373,-0.716 Z" transform="translate(1292.1,522) scale(35.5)" fill="#000"/>
<text x="1311.84 1331.58" y="522" font-family='"Liberation Sans", sans-serif' font-size="35.5" fill="#000">30</text>
<text x="1292.1 1311.84" y="655" font-family='"Liberation Sans", sans-serif' font-size="35.5" fill="#000">90</text>
<text x="1292.1 1311.84" y="788" font-family='"Liberation Sans", sans-serif' font-size="35.5" fill="#000">50</text>
<path d="M0.373,0 L0.285,0 L0.285,-0.560 C0.264,-0.540 0.236,-0.519 0.201,-0.499 C0.167,-0.478 0.136,-0.463 0.109,-0.453 L0.109,-0.538 C0.158,-0.561 0.201,-0.589 0.238,-0.622 C0.275,-0.655 0.301,-0.687 0.316,-0.716 L0.373,-0.716 Z" transform="translate(1292.1,921) scale(35.5)" fill="#000"/>
<text x="1311.84" y="921" font-family='"Liberation Sans", sans-serif' font-size="35.5" fill="#000">0</text>
<text x="1217.4" y="542.2" font-family='"Liberation Sans", sans-serif' font-size="33" fill="#000" textLength="43" lengthAdjust="spacingAndGlyphs" >(e)</text>
<line x1="780" y1="979.5" x2="780" y2="993" stroke="#000" stroke-width="2" />
<line x1="780" y1="1428.4" x2="780" y2="1414.9" stroke="#000" stroke-width="2" />
<line x1="895.7" y1="979.5" x2="895.7" y2="993" stroke="#000" stroke-width="2" />
<line x1="895.7" y1="1428.4" x2="895.7" y2="1414.9" stroke="#000" stroke-width="2" />
<line x1="1011.6" y1="979.5" x2="1011.6" y2="993" stroke="#000" stroke-width="2" />
<line x1="1011.6" y1="1428.4" x2="1011.6" y2="1414.9" stroke="#000" stroke-width="2" />
<line x1="1127.2" y1="979.5" x2="1127.2" y2="993" stroke="#000" stroke-width="2" />
<line x1="1127.2" y1="1428.4" x2="1127.2" y2="1414.9" stroke="#000" stroke-width="2" />
<line x1="1243" y1="979.5" x2="1243" y2="993" stroke="#000" stroke-width="2" />
<line x1="1243" y1="1428.4" x2="1243" y2="1414.9" stroke="#000" stroke-width="2" />
<line x1="837.8" y1="979.5" x2="837.8" y2="986" stroke="#000" stroke-width="2" />
<line x1="837.8" y1="1428.4" x2="837.8" y2="1421.9" stroke="#000" stroke-width="2" />
<line x1="953.7" y1="979.5" x2="953.7" y2="986" stroke="#000" stroke-width="2" />
<line x1="953.7" y1="1428.4" x2="953.7" y2="1421.9" stroke="#000" stroke-width="2" />
<line x1="1069.6" y1="979.5" x2="1069.6" y2="986" stroke="#000" stroke-width="2" />
<line x1="1069.6" y1="1428.4" x2="1069.6" y2="1421.9" stroke="#000" stroke-width="2" />
<line x1="1185.5" y1="979.5" x2="1185.5" y2="986" stroke="#000" stroke-width="2" />
<line x1="1185.5" y1="1428.4" x2="1185.5" y2="1421.9" stroke="#000" stroke-width="2" />
<line x1="741" y1="1023" x2="754.5" y2="1023" stroke="#000" stroke-width="2" />
<line x1="1281" y1="1023" x2="1267.5" y2="1023" stroke="#000" stroke-width="2" />
<line x1="741" y1="1203" x2="754.5" y2="1203" stroke="#000" stroke-width="2" />
<line x1="1281" y1="1203" x2="1267.5" y2="1203" stroke="#000" stroke-width="2" />
<line x1="741" y1="1383.5" x2="754.5" y2="1383.5" stroke="#000" stroke-width="2" />
<line x1="1281" y1="1383.5" x2="1267.5" y2="1383.5" stroke="#000" stroke-width="2" />
<line x1="741" y1="1113.3" x2="747.5" y2="1113.3" stroke="#000" stroke-width="2" />
<line x1="1281" y1="1113.3" x2="1274.5" y2="1113.3" stroke="#000" stroke-width="2" />
<line x1="741" y1="1293.5" x2="747.5" y2="1293.5" stroke="#000" stroke-width="2" />
<line x1="1281" y1="1293.5" x2="1274.5" y2="1293.5" stroke="#000" stroke-width="2" />
<rect x="741" y="979.5" width="540" height="448.9" fill="none" stroke="#000" stroke-width="2"/>
<text x="1286.8 1306.54 1316.41 1336.14 1355.88" y="1034.4" font-family='"Liberation Sans", sans-serif' font-size="35.5" fill="#000">0.578</text>
<text x="1286.8 1306.54 1316.41 1336.14 1355.88" y="1214.4" font-family='"Liberation Sans", sans-serif' font-size="35.5" fill="#000">0.576</text>
<text x="1286.8 1306.54 1316.41 1336.14 1355.88" y="1394.9" font-family='"Liberation Sans", sans-serif' font-size="35.5" fill="#000">0.574</text>
<text x="1217.2" y="1026.2" font-family='"Liberation Sans", sans-serif' font-size="33" fill="#000" textLength="32" lengthAdjust="spacingAndGlyphs" >(f)</text>
<path d="M177,731 C190.83,730.92 232.83,730.67 260,730.5 C287.17,730.33 318,729.58 340,730 C362,730.42 374.5,730.83 392,733 C409.5,735.17 427.33,738.67 445,743 C462.67,747.33 480.5,752.83 498,759 C515.5,765.17 533,771.17 550,780 C567,788.83 585.33,801.5 600,812 C614.67,822.5 631.67,837.83 638,843" fill="none" stroke="#1a1ae0" stroke-width="1.6" stroke-dasharray="10.5 10" stroke-dashoffset="0"/>
<path d="M182,856.7 C202.67,856.3 278.08,855.75 306,854.3 C333.92,852.85 338.17,849.8 349.5,848 C360.83,846.2 362.45,846.22 374,843.5 C385.55,840.78 404.77,836.73 418.8,831.7 C432.83,826.67 445.07,819.87 458.2,813.3 C471.33,806.73 486.67,798.42 497.6,792.3 C508.53,786.18 515.07,784.03 523.8,776.6 C532.53,769.17 541.25,758.22 550,747.7 C558.75,737.18 567.53,724.45 576.3,713.5 C585.07,702.55 595.37,690.97 602.6,682 C609.83,673.03 616.85,663.42 619.7,659.7" fill="none" stroke="#d8101e" stroke-width="1.6" stroke-dasharray="10.5 10" stroke-dashoffset="0"/>
<rect x="198" y="719" width="20" height="20" fill="#1010f8"/>
<rect x="234.4" y="699.5" width="20" height="20" fill="#1010f8"/>
<rect x="276.1" y="718.4" width="20" height="20" fill="#1010f8"/>
<rect x="319.4" y="715" width="20" height="20" fill="#1010f8"/>
<rect x="319.4" y="721" width="20" height="20" fill="#1010f8"/>
<rect x="365.5" y="720" width="20" height="20" fill="#1010f8"/>
<rect x="365.5" y="727" width="20" height="20" fill="#1010f8"/>
<rect x="425.3" y="739.8" width="20" height="20" fill="#1010f8"/>
<rect x="494.9" y="752.9" width="20" height="20" fill="#1010f8"/>
<rect x="557" y="768" width="20" height="20" fill="#1010f8"/>
<rect x="551" y="777" width="20" height="20" fill="#1010f8"/>
<rect x="557" y="787" width="20" height="20" fill="#1010f8"/>
<rect x="596" y="805" width="20" height="20" fill="#1010f8"/>
<rect x="600" y="802" width="20" height="20" fill="#1010f8"/>
<circle cx="208" cy="855.2" r="10.5" fill="#ff2010"/>
<circle cx="244.4" cy="892.9" r="10.5" fill="#ff2010"/>
<circle cx="286.1" cy="852" r="10.5" fill="#ff2010"/>
<circle cx="286.1" cy="859" r="10.5" fill="#ff2010"/>
<circle cx="330.3" cy="852" r="10.5" fill="#ff2010"/>
<circle cx="330.3" cy="861" r="10.5" fill="#ff2010"/>
<circle cx="375.5" cy="836.4" r="10.5" fill="#ff2010"/>
<circle cx="375.5" cy="852.7" r="10.5" fill="#ff2010"/>
<circle cx="435.3" cy="819.1" r="10.5" fill="#ff2010"/>
<circle cx="504.9" cy="787" r="10.5" fill="#ff2010"/>
<circle cx="567.2" cy="716.2" r="10.5" fill="#ff2010"/>
<circle cx="560.6" cy="738.5" r="10.5" fill="#ff2010"/>
<circle cx="568" cy="757.4" r="10.5" fill="#ff2010"/>
<circle cx="606.5" cy="678.1" r="10.5" fill="#ff2010"/>
<circle cx="611.8" cy="687.8" r="10.5" fill="#ff2010"/>
<defs>
<radialGradient id="gD" cx="0.5" cy="0.5" r="0.5" fx="0.52" fy="0.48">
<stop offset="0" stop-color="#f2fff2"/><stop offset="0.18" stop-color="#9ae39a"/><stop offset="0.45" stop-color="#4d9e4d"/><stop offset="0.8" stop-color="#2f7a33"/><stop offset="1" stop-color="#1e5a22"/></radialGradient>
<radialGradient id="gL" cx="0.5" cy="0.5" r="0.5" fx="0.52" fy="0.48">
<stop offset="0" stop-color="#f4fff4"/><stop offset="0.2" stop-color="#a6eaa6"/><stop offset="0.5" stop-color="#5aac5e"/><stop offset="0.85" stop-color="#3f8f46"/><stop offset="1" stop-color="#2f7a36"/></radialGradient>
<radialGradient id="gK" cx="0.5" cy="0.5" r="0.5" fx="0.52" fy="0.45">
<stop offset="0" stop-color="#e8ffe8"/><stop offset="0.18" stop-color="#82cf82"/><stop offset="0.45" stop-color="#3a8a3a"/><stop offset="0.8" stop-color="#22642a"/><stop offset="1" stop-color="#164a1a"/></radialGradient>
<radialGradient id="rD" cx="0.5" cy="0.5" r="0.5" fx="0.55" fy="0.42">
<stop offset="0" stop-color="#fff0f0"/><stop offset="0.2" stop-color="#f88080"/><stop offset="0.5" stop-color="#e42a2a"/><stop offset="0.85" stop-color="#c01818"/><stop offset="1" stop-color="#981010"/></radialGradient>
</defs>
<line x1="460.1" y1="637.8" x2="491.1" y2="600.7" stroke="#5d8c7e" stroke-width="4.2" stroke-linecap="round"/>
<line x1="460.1" y1="637.8" x2="491.1" y2="600.7" stroke="#7fb0a0" stroke-width="1.2" />
<circle cx="460.1" cy="637.8" r="16.6" fill="url(#gL)"/>
<line x1="285.4" y1="559.8" x2="355.5" y2="607.3" stroke="#5d8c7e" stroke-width="4.2" stroke-linecap="round"/>
<line x1="285.4" y1="559.8" x2="355.5" y2="607.3" stroke="#7fb0a0" stroke-width="1.2" />
<line x1="371.7" y1="536.5" x2="396.7" y2="592.9" stroke="#5d8c7e" stroke-width="4.2" stroke-linecap="round"/>
<line x1="371.7" y1="536.5" x2="396.7" y2="592.9" stroke="#7fb0a0" stroke-width="1.2" />
<line x1="425.9" y1="554.2" x2="355.5" y2="607.3" stroke="#5d8c7e" stroke-width="4.2" stroke-linecap="round"/>
<line x1="425.9" y1="554.2" x2="355.5" y2="607.3" stroke="#7fb0a0" stroke-width="1.2" />
<line x1="329" y1="643.8" x2="396.7" y2="592.9" stroke="#5d8c7e" stroke-width="4.2" stroke-linecap="round"/>
<line x1="329" y1="643.8" x2="396.7" y2="592.9" stroke="#7fb0a0" stroke-width="1.2" />
<line x1="425.9" y1="554.2" x2="396.7" y2="592.9" stroke="#5d8c7e" stroke-width="4.2" stroke-linecap="round"/>
<line x1="425.9" y1="554.2" x2="396.7" y2="592.9" stroke="#7fb0a0" stroke-width="1.2" />
<line x1="425.9" y1="554.2" x2="455.3" y2="616.8" stroke="#5d8c7e" stroke-width="4.2" stroke-linecap="round"/>
<line x1="425.9" y1="554.2" x2="455.3" y2="616.8" stroke="#7fb0a0" stroke-width="1.2" />
<line x1="425.9" y1="554.2" x2="491.1" y2="600.7" stroke="#5d8c7e" stroke-width="4.2" stroke-linecap="round"/>
<line x1="425.9" y1="554.2" x2="491.1" y2="600.7" stroke="#7fb0a0" stroke-width="1.2" />
<line x1="383.2" y1="671.4" x2="455.3" y2="616.8" stroke="#5d8c7e" stroke-width="4.2" stroke-linecap="round"/>
<line x1="383.2" y1="671.4" x2="455.3" y2="616.8" stroke="#7fb0a0" stroke-width="1.2" />
<line x1="355.5" y1="607.3" x2="383.2" y2="671.4" stroke="#5d8c7e" stroke-width="4.2" stroke-linecap="round"/>
<line x1="355.5" y1="607.3" x2="383.2" y2="671.4" stroke="#7fb0a0" stroke-width="1.2" />
<line x1="455.3" y1="616.8" x2="490" y2="575.9" stroke="#5d8c7e" stroke-width="4.2" stroke-linecap="round"/>
<line x1="455.3" y1="616.8" x2="490" y2="575.9" stroke="#7fb0a0" stroke-width="1.2" />
<line x1="396.7" y1="592.9" x2="522.5" y2="662.6" stroke="#5d8c7e" stroke-width="4.2" stroke-linecap="round"/>
<line x1="396.7" y1="592.9" x2="522.5" y2="662.6" stroke="#7fb0a0" stroke-width="1.2" />
<line x1="491.1" y1="600.7" x2="522.5" y2="662.6" stroke="#5d8c7e" stroke-width="4.2" stroke-linecap="round"/>
<line x1="491.1" y1="600.7" x2="522.5" y2="662.6" stroke="#7fb0a0" stroke-width="1.2" />
<line x1="491.1" y1="600.7" x2="557.4" y2="549.8" stroke="#5d8c7e" stroke-width="4.2" stroke-linecap="round"/>
<line x1="491.1" y1="600.7" x2="557.4" y2="549.8" stroke="#7fb0a0" stroke-width="1.2" />
<line x1="329" y1="643.8" x2="355.5" y2="607.3" stroke="#5d8c7e" stroke-width="4.2" stroke-linecap="round"/>
<line x1="329" y1="643.8" x2="355.5" y2="607.3" stroke="#7fb0a0" stroke-width="1.2" />
<circle cx="371.7" cy="536.5" r="17.2" fill="url(#gL)"/>
<circle cx="557.4" cy="549.8" r="17.2" fill="url(#gL)"/>
<circle cx="355.5" cy="607.3" r="12.2" fill="url(#rD)"/>
<circle cx="396.7" cy="592.9" r="11.5" fill="url(#rD)"/>
<circle cx="455.3" cy="616.8" r="12.4" fill="url(#rD)"/>
<circle cx="491.1" cy="600.7" r="11.5" fill="url(#rD)"/>
<circle cx="285.4" cy="559.8" r="18.8" fill="url(#gD)"/>
<circle cx="425.9" cy="554.2" r="18.1" fill="url(#gD)"/>
<circle cx="329" cy="643.8" r="17.7" fill="url(#gL)"/>
<circle cx="383.2" cy="671.4" r="18.8" fill="url(#gD)"/>
<circle cx="522.5" cy="662.6" r="18.1" fill="url(#gD)"/>
<circle cx="490" cy="575.9" r="19.9" fill="url(#gK)"/>
<path d="M316.4,578.6 C318.05,576.02 321.7,566.23 326.3,563.1 C330.9,559.97 337.73,559.62 344,559.8 C350.27,559.98 358.37,562 363.9,564.2 C369.43,566.4 373.88,569.5 377.2,573 C380.52,576.5 382.7,583.17 383.8,585.2" fill="none" stroke="#e8141c" stroke-width="1.6"/>
<path d="M315.3,579 C313.63,580.03 307.43,581.95 305.3,585.2 C303.17,588.45 302.13,594.82 302.5,598.5 C302.87,602.18 305,604.37 307.5,607.3 C310,610.23 313.98,613.52 317.5,616.1 C321.02,618.68 324.92,621.13 328.6,622.8 C332.28,624.47 337.77,625.55 339.6,626.1" fill="none" stroke="#1a1ae8" stroke-width="1.6"/>
<path transform="translate(316,520) scale(0.027644)" fill-rule="evenodd" fill="#f81c12" d="M700,140 C800,130 880,170 930,260 L1000,330 L1100,165 L1300,170 L990,700 C950,780 940,860 960,900 C990,930 1060,880 1160,850 L1190,880 C1120,980 1020,1060 920,1070 C840,1075 810,1010 820,930 C720,1030 560,1080 420,1080 C220,1080 110,970 110,800 C110,520 330,150 700,140 Z M710,195 C560,200 440,330 380,520 C330,680 320,820 360,930 C400,1000 470,1010 540,970 C650,900 780,720 840,520 C880,380 860,200 710,195 Z"/>
<path transform="translate(262,598) scale(0.033512)" fill-rule="evenodd" fill="#2a2af8" d="M120,1460 C200,1250 280,1050 350,850 C420,640 470,470 540,350 C640,180 790,100 950,95 C1100,92 1195,165 1190,275 C1185,390 1100,470 985,540 C1070,590 1110,690 1100,800 C1085,990 880,1180 650,1185 C560,1187 490,1160 440,1125 L400,1230 C360,1320 320,1410 290,1475 Z M880,150 C960,150 1000,200 1000,265 C1000,360 950,440 890,490 L890,500 L700,515 L695,585 L860,590 C895,650 905,760 870,880 C820,1030 720,1115 610,1120 C530,1122 475,1095 455,1045 L640,560 C680,420 710,320 750,240 C790,180 830,150 880,150 Z"/>
<line x1="205.7" y1="645.6" x2="205.7" y2="622" stroke="#1a1ae0" stroke-width="2.2" />
<polygon points="205.7,614.5 202,624 209.4,624" fill="#1a1ae0"/>
<line x1="205.7" y1="645.6" x2="228" y2="649.2" stroke="#30d030" stroke-width="2.2" />
<polygon points="235,650.4 226,645.5 225.2,652.6" fill="#30d030"/>
<line x1="205.7" y1="645.6" x2="193" y2="651.5" stroke="#c01010" stroke-width="3" />
<circle cx="205.7" cy="645.6" r="2.3" fill="#ddd" stroke="#888" stroke-width="0.6"/>
<text x="204.2" y="610" font-family='"Liberation Sans", sans-serif' font-size="6" fill="#000" >c</text>
<text x="238" y="653" font-family='"Liberation Sans", sans-serif' font-size="6" fill="#000" >b</text>
<text x="182" y="656" font-family='"Liberation Sans", sans-serif' font-size="6" fill="#000" >a</text>
<path d="M249,1073 L648.3,1197.9" fill="none" stroke="#16108e" stroke-width="1.9" stroke-dasharray="10.5 10" stroke-dashoffset="0"/>
<path d="M230.5,1315.5 C242.08,1315.88 271.75,1316.72 300,1317.8 C328.25,1318.88 360.33,1320.22 400,1322 C439.67,1323.78 495.17,1326.5 538,1328.5 C580.83,1330.5 637.17,1333.08 657,1334" fill="none" stroke="#32901f" stroke-width="1.6" stroke-dasharray="10.5 10" stroke-dashoffset="0"/>
<line x1="229.5" y1="1008.9" x2="229.5" y2="1119.3" stroke="#3333b0" stroke-width="1.3" />
<line x1="225.3" y1="1008.9" x2="233.7" y2="1008.9" stroke="#3333b0" stroke-width="1.3" />
<line x1="225.3" y1="1119.3" x2="233.7" y2="1119.3" stroke="#3333b0" stroke-width="1.3" />
<line x1="267.9" y1="1055.9" x2="267.9" y2="1112.5" stroke="#3333b0" stroke-width="1.3" />
<line x1="263.7" y1="1055.9" x2="272.1" y2="1055.9" stroke="#3333b0" stroke-width="1.3" />
<line x1="263.7" y1="1112.5" x2="272.1" y2="1112.5" stroke="#3333b0" stroke-width="1.3" />
<line x1="310.3" y1="1072.9" x2="310.3" y2="1112" stroke="#3333b0" stroke-width="1.3" />
<line x1="306.1" y1="1072.9" x2="314.5" y2="1072.9" stroke="#3333b0" stroke-width="1.3" />
<line x1="306.1" y1="1112" x2="314.5" y2="1112" stroke="#3333b0" stroke-width="1.3" />
<line x1="356.7" y1="1072.9" x2="356.7" y2="1099.8" stroke="#3333b0" stroke-width="1.3" />
<line x1="352.5" y1="1072.9" x2="360.9" y2="1072.9" stroke="#3333b0" stroke-width="1.3" />
<line x1="352.5" y1="1099.8" x2="360.9" y2="1099.8" stroke="#3333b0" stroke-width="1.3" />
<line x1="356.7" y1="1100.3" x2="356.7" y2="1135.7" stroke="#3333b0" stroke-width="1.3" />
<line x1="352.5" y1="1100.3" x2="360.9" y2="1100.3" stroke="#3333b0" stroke-width="1.3" />
<line x1="352.5" y1="1135.7" x2="360.9" y2="1135.7" stroke="#3333b0" stroke-width="1.3" />
<line x1="403.1" y1="1032.8" x2="403.1" y2="1184.5" stroke="#3333b0" stroke-width="1.3" />
<line x1="398.9" y1="1032.8" x2="407.3" y2="1032.8" stroke="#3333b0" stroke-width="1.3" />
<line x1="398.9" y1="1184.5" x2="407.3" y2="1184.5" stroke="#3333b0" stroke-width="1.3" />
<line x1="538" y1="1131.8" x2="538" y2="1163.8" stroke="#3333b0" stroke-width="1.3" />
<line x1="533.8" y1="1131.8" x2="542.2" y2="1131.8" stroke="#3333b0" stroke-width="1.3" />
<line x1="533.8" y1="1163.8" x2="542.2" y2="1163.8" stroke="#3333b0" stroke-width="1.3" />
<line x1="602.9" y1="1149.9" x2="602.9" y2="1219.5" stroke="#3333b0" stroke-width="1.3" />
<line x1="598.7" y1="1149.9" x2="607.1" y2="1149.9" stroke="#3333b0" stroke-width="1.3" />
<line x1="598.7" y1="1219.5" x2="607.1" y2="1219.5" stroke="#3333b0" stroke-width="1.3" />
<line x1="648.3" y1="1157.3" x2="648.3" y2="1227.5" stroke="#3333b0" stroke-width="1.3" />
<line x1="644.1" y1="1157.3" x2="652.5" y2="1157.3" stroke="#3333b0" stroke-width="1.3" />
<line x1="644.1" y1="1227.5" x2="652.5" y2="1227.5" stroke="#3333b0" stroke-width="1.3" />
<line x1="229.9" y1="1298.7" x2="229.9" y2="1356.6" stroke="#3a9a2a" stroke-width="1.3" />
<line x1="225.7" y1="1298.7" x2="234.1" y2="1298.7" stroke="#3a9a2a" stroke-width="1.3" />
<line x1="225.7" y1="1356.6" x2="234.1" y2="1356.6" stroke="#3a9a2a" stroke-width="1.3" />
<line x1="267.9" y1="1290.4" x2="267.9" y2="1326.6" stroke="#3a9a2a" stroke-width="1.3" />
<line x1="263.7" y1="1290.4" x2="272.1" y2="1290.4" stroke="#3a9a2a" stroke-width="1.3" />
<line x1="263.7" y1="1326.6" x2="272.1" y2="1326.6" stroke="#3a9a2a" stroke-width="1.3" />
<line x1="310.3" y1="1340" x2="310.3" y2="1349.2" stroke="#3a9a2a" stroke-width="1.3" />
<line x1="306.1" y1="1340" x2="314.5" y2="1340" stroke="#3a9a2a" stroke-width="1.3" />
<line x1="306.1" y1="1349.2" x2="314.5" y2="1349.2" stroke="#3a9a2a" stroke-width="1.3" />
<line x1="356.7" y1="1290" x2="356.7" y2="1310" stroke="#3a9a2a" stroke-width="1.3" />
<line x1="352.5" y1="1290" x2="360.9" y2="1290" stroke="#3a9a2a" stroke-width="1.3" />
<line x1="352.5" y1="1310" x2="360.9" y2="1310" stroke="#3a9a2a" stroke-width="1.3" />
<line x1="403.7" y1="1258.6" x2="403.7" y2="1350.5" stroke="#3a9a2a" stroke-width="1.3" />
<line x1="399.5" y1="1258.6" x2="407.9" y2="1258.6" stroke="#3a9a2a" stroke-width="1.3" />
<line x1="399.5" y1="1350.5" x2="407.9" y2="1350.5" stroke="#3a9a2a" stroke-width="1.3" />
<line x1="538" y1="1328" x2="538" y2="1344.5" stroke="#3a9a2a" stroke-width="1.3" />
<line x1="533.8" y1="1328" x2="542.2" y2="1328" stroke="#3a9a2a" stroke-width="1.3" />
<line x1="533.8" y1="1344.5" x2="542.2" y2="1344.5" stroke="#3a9a2a" stroke-width="1.3" />
<line x1="602.9" y1="1315.9" x2="602.9" y2="1360" stroke="#3a9a2a" stroke-width="1.3" />
<line x1="598.7" y1="1315.9" x2="607.1" y2="1315.9" stroke="#3a9a2a" stroke-width="1.3" />
<line x1="598.7" y1="1360" x2="607.1" y2="1360" stroke="#3a9a2a" stroke-width="1.3" />
<line x1="648.3" y1="1308.4" x2="648.3" y2="1349" stroke="#3a9a2a" stroke-width="1.3" />
<line x1="644.1" y1="1308.4" x2="652.5" y2="1308.4" stroke="#3a9a2a" stroke-width="1.3" />
<line x1="644.1" y1="1349" x2="652.5" y2="1349" stroke="#3a9a2a" stroke-width="1.3" />
<circle cx="229.5" cy="1064.6" r="10.9" fill="#16108e"/>
<circle cx="267.9" cy="1084.7" r="10.9" fill="#16108e"/>
<circle cx="310.3" cy="1093" r="10.9" fill="#16108e"/>
<circle cx="310.3" cy="1107" r="10.9" fill="#16108e"/>
<circle cx="356.7" cy="1086.2" r="10.9" fill="#16108e"/>
<circle cx="356.7" cy="1119.3" r="10.9" fill="#16108e"/>
<circle cx="403.1" cy="1108.1" r="10.9" fill="#16108e"/>
<circle cx="466" cy="1143" r="10.9" fill="#16108e"/>
<circle cx="538" cy="1148.1" r="10.9" fill="#16108e"/>
<circle cx="602.9" cy="1183.9" r="10.9" fill="#16108e"/>
<circle cx="602.9" cy="1199.4" r="10.9" fill="#16108e"/>
<circle cx="648.3" cy="1181.6" r="10.9" fill="#16108e"/>
<circle cx="643.8" cy="1209.7" r="10.9" fill="#16108e"/>
<rect x="219.9" y="1317.5" width="20" height="20" fill="#32901f"/>
<rect x="257.9" y="1298" width="20" height="20" fill="#32901f"/>
<rect x="300.3" y="1325" width="20" height="20" fill="#32901f"/>
<rect x="300.3" y="1327" width="20" height="20" fill="#32901f"/>
<rect x="346.7" y="1288" width="20" height="20" fill="#32901f"/>
<rect x="346.7" y="1295" width="20" height="20" fill="#32901f"/>
<rect x="393.7" y="1294" width="20" height="20" fill="#32901f"/>
<rect x="456" y="1314.7" width="20" height="20" fill="#32901f"/>
<rect x="528" y="1327.2" width="20" height="20" fill="#32901f"/>
<rect x="592.9" y="1332" width="20" height="20" fill="#32901f"/>
<rect x="592.9" y="1345" width="20" height="20" fill="#32901f"/>
<rect x="638.3" y="1313.3" width="20" height="20" fill="#32901f"/>
<rect x="633.2" y="1324.8" width="20" height="20" fill="#32901f"/>
<path d="M792.1,205.8 C795.42,200 804.68,181.58 812,171 C819.32,160.42 825.45,154.13 836,142.3 C846.55,130.47 862.7,111.6 875.3,100 C887.9,88.4 900.82,79.37 911.6,72.7 C922.38,66.03 929.9,63.03 940,60 C950.1,56.97 962.2,54.67 972.2,54.5 C982.2,54.33 990.37,56.08 1000,59 C1009.63,61.92 1019.92,66.2 1030,72 C1040.08,77.8 1048.85,83.6 1060.5,93.8 C1072.15,104 1087.28,118.05 1099.9,133.2 C1112.52,148.35 1124.6,166.53 1136.2,184.7 C1147.8,202.87 1157.38,217.98 1169.5,242.2 C1181.62,266.42 1202.33,315.37 1208.9,330" fill="none" stroke="#d8101e" stroke-width="1.6" stroke-dasharray="10.5 10" stroke-dashoffset="0"/>
<line x1="792.1" y1="192.8" x2="792.1" y2="281.5" stroke="#d23a5a" stroke-width="1.3" />
<line x1="788.2" y1="192.8" x2="796" y2="192.8" stroke="#d23a5a" stroke-width="1.3" />
<line x1="788.2" y1="281.5" x2="796" y2="281.5" stroke="#d23a5a" stroke-width="1.3" />
<line x1="827.8" y1="178.6" x2="827.8" y2="203.4" stroke="#d23a5a" stroke-width="1.3" />
<line x1="823.9" y1="178.6" x2="831.7" y2="178.6" stroke="#d23a5a" stroke-width="1.3" />
<line x1="823.9" y1="203.4" x2="831.7" y2="203.4" stroke="#d23a5a" stroke-width="1.3" />
<line x1="869.3" y1="58.1" x2="869.3" y2="90" stroke="#d23a5a" stroke-width="1.3" />
<line x1="865.4" y1="58.1" x2="873.2" y2="58.1" stroke="#d23a5a" stroke-width="1.3" />
<line x1="865.4" y1="90" x2="873.2" y2="90" stroke="#d23a5a" stroke-width="1.3" />
<line x1="913.1" y1="53.9" x2="913.1" y2="95" stroke="#d23a5a" stroke-width="1.3" />
<line x1="909.2" y1="53.9" x2="917" y2="53.9" stroke="#d23a5a" stroke-width="1.3" />
<line x1="909.2" y1="95" x2="917" y2="95" stroke="#d23a5a" stroke-width="1.3" />
<line x1="959.2" y1="30.3" x2="959.2" y2="183.7" stroke="#d23a5a" stroke-width="1.3" />
<line x1="955.3" y1="30.3" x2="963.1" y2="30.3" stroke="#d23a5a" stroke-width="1.3" />
<line x1="955.3" y1="183.7" x2="963.1" y2="183.7" stroke="#d23a5a" stroke-width="1.3" />
<line x1="1018.5" y1="102.9" x2="1018.5" y2="144.7" stroke="#d23a5a" stroke-width="1.3" />
<line x1="1014.6" y1="102.9" x2="1022.4" y2="102.9" stroke="#d23a5a" stroke-width="1.3" />
<line x1="1014.6" y1="144.7" x2="1022.4" y2="144.7" stroke="#d23a5a" stroke-width="1.3" />
<line x1="1151.4" y1="165" x2="1151.4" y2="218.6" stroke="#d23a5a" stroke-width="1.3" />
<line x1="1147.5" y1="165" x2="1155.3" y2="165" stroke="#d23a5a" stroke-width="1.3" />
<line x1="1147.5" y1="218.6" x2="1155.3" y2="218.6" stroke="#d23a5a" stroke-width="1.3" />
<circle cx="792.1" cy="237.6" r="11" fill="#ff2010"/>
<circle cx="827.8" cy="190.7" r="11" fill="#ff2010"/>
<circle cx="869.3" cy="72.7" r="11" fill="#ff2010"/>
<circle cx="869.3" cy="80.2" r="11" fill="#ff2010"/>
<circle cx="913.1" cy="66" r="11" fill="#ff2010"/>
<circle cx="913.1" cy="86.3" r="11" fill="#ff2010"/>
<circle cx="959.2" cy="106.6" r="11" fill="#ff2010"/>
<circle cx="1018.5" cy="124.1" r="11" fill="#ff2010"/>
<circle cx="1088.7" cy="155" r="11" fill="#ff2010"/>
<circle cx="1151.4" cy="174.1" r="11" fill="#ff2010"/>
<circle cx="1151.4" cy="200.7" r="11" fill="#ff2010"/>
<circle cx="1190.1" cy="266.4" r="11" fill="#ff2010"/>
<circle cx="1196.8" cy="266.4" r="11" fill="#ff2010"/>
<rect x="780.8" y="759" width="22" height="22" fill="#2d7d1d"/>
<rect x="817" y="731.8" width="22" height="22" fill="#2d7d1d"/>
<rect x="858.7" y="722.5" width="22" height="22" fill="#2d7d1d"/>
<rect x="903" y="696.2" width="22" height="22" fill="#2d7d1d"/>
<rect x="947.8" y="705.5" width="22" height="22" fill="#2d7d1d"/>
<rect x="1008.4" y="726.5" width="22" height="22" fill="#2d7d1d"/>
<rect x="1077.4" y="745.8" width="22" height="22" fill="#2d7d1d"/>
<rect x="1136.1" y="759.7" width="22" height="22" fill="#2d7d1d"/>
<rect x="1184" y="762.8" width="22" height="22" fill="#2d7d1d"/>
<rect x="783.3" y="753.5" width="17" height="17" fill="#fff" stroke="#3ef01c" stroke-width="3.4"/>
<rect x="819.5" y="740.5" width="17" height="17" fill="#fff" stroke="#3ef01c" stroke-width="3.4"/>
<rect x="861.2" y="709.5" width="17" height="17" fill="#fff" stroke="#3ef01c" stroke-width="3.4"/>
<rect x="905.5" y="712.6" width="17" height="17" fill="#fff" stroke="#3ef01c" stroke-width="3.4"/>
<rect x="950.3" y="722.5" width="17" height="17" fill="#fff" stroke="#3ef01c" stroke-width="3.4"/>
<rect x="1010.9" y="727.7" width="17" height="17" fill="#fff" stroke="#3ef01c" stroke-width="3.4"/>
<rect x="1079.9" y="740.5" width="17" height="17" fill="#fff" stroke="#3ef01c" stroke-width="3.4"/>
<rect x="1142.3" y="743.7" width="17" height="17" fill="#fff" stroke="#3ef01c" stroke-width="3.4"/>
<rect x="1142.3" y="754.5" width="17" height="17" fill="#fff" stroke="#3ef01c" stroke-width="3.4"/>
<rect x="1182.5" y="776.1" width="17" height="17" fill="#fff" stroke="#3ef01c" stroke-width="3.4"/>
<rect x="1187.2" y="773" width="17" height="17" fill="#fff" stroke="#3ef01c" stroke-width="3.4"/>
<circle cx="791.8" cy="606.1" r="11.5" fill="#16108e"/>
<circle cx="828" cy="595" r="11.5" fill="#16108e"/>
<circle cx="869.7" cy="557.9" r="11.5" fill="#16108e"/>
<circle cx="869.7" cy="552" r="11.5" fill="#16108e"/>
<circle cx="914" cy="543.4" r="11.5" fill="#16108e"/>
<circle cx="958.8" cy="569.7" r="11.5" fill="#16108e"/>
<circle cx="1019.4" cy="604.5" r="11.5" fill="#16108e"/>
<circle cx="1088.4" cy="619.2" r="11.5" fill="#16108e"/>
<circle cx="1141.5" cy="664" r="11.5" fill="#16108e"/>
<circle cx="1195.7" cy="693.4" r="11.5" fill="#16108e"/>
<circle cx="1189.5" cy="710.4" r="11.5" fill="#16108e"/>
<circle cx="791.8" cy="610.5" r="9.2" fill="#fff" stroke="#2222ff" stroke-width="3.2"/>
<circle cx="828" cy="592.2" r="9.2" fill="#fff" stroke="#2222ff" stroke-width="3.2"/>
<circle cx="869.7" cy="544.3" r="9.2" fill="#fff" stroke="#2222ff" stroke-width="3.2"/>
<circle cx="914" cy="553.3" r="9.2" fill="#fff" stroke="#2222ff" stroke-width="3.2"/>
<circle cx="914" cy="561" r="9.2" fill="#fff" stroke="#2222ff" stroke-width="3.2"/>
<circle cx="958.8" cy="581.1" r="9.2" fill="#fff" stroke="#2222ff" stroke-width="3.2"/>
<circle cx="1019.4" cy="603.1" r="9.2" fill="#fff" stroke="#2222ff" stroke-width="3.2"/>
<circle cx="1088.4" cy="632.2" r="9.2" fill="#fff" stroke="#2222ff" stroke-width="3.2"/>
<circle cx="1150.8" cy="653.8" r="9.2" fill="#fff" stroke="#2222ff" stroke-width="3.2"/>
<circle cx="1150.8" cy="665.6" r="9.2" fill="#fff" stroke="#2222ff" stroke-width="3.2"/>
<circle cx="1191" cy="702.7" r="9.2" fill="#fff" stroke="#2222ff" stroke-width="3.2"/>
<circle cx="1197.2" cy="702.7" r="9.2" fill="#fff" stroke="#2222ff" stroke-width="3.2"/>
<line x1="791.3" y1="606.5" x2="791.3" y2="614.5" stroke="#303070" stroke-width="1.0" />
<line x1="788.5" y1="606.5" x2="794.1" y2="606.5" stroke="#303070" stroke-width="1.0" />
<line x1="788.5" y1="614.5" x2="794.1" y2="614.5" stroke="#303070" stroke-width="1.0" />
<line x1="827.5" y1="588.2" x2="827.5" y2="596.2" stroke="#303070" stroke-width="1.0" />
<line x1="824.7" y1="588.2" x2="830.3" y2="588.2" stroke="#303070" stroke-width="1.0" />
<line x1="824.7" y1="596.2" x2="830.3" y2="596.2" stroke="#303070" stroke-width="1.0" />
<line x1="869.2" y1="540.3" x2="869.2" y2="548.3" stroke="#303070" stroke-width="1.0" />
<line x1="866.4" y1="540.3" x2="872" y2="540.3" stroke="#303070" stroke-width="1.0" />
<line x1="866.4" y1="548.3" x2="872" y2="548.3" stroke="#303070" stroke-width="1.0" />
<line x1="913.5" y1="549.3" x2="913.5" y2="557.3" stroke="#303070" stroke-width="1.0" />
<line x1="910.7" y1="549.3" x2="916.3" y2="549.3" stroke="#303070" stroke-width="1.0" />
<line x1="910.7" y1="557.3" x2="916.3" y2="557.3" stroke="#303070" stroke-width="1.0" />
<line x1="913.5" y1="557" x2="913.5" y2="565" stroke="#303070" stroke-width="1.0" />
<line x1="910.7" y1="557" x2="916.3" y2="557" stroke="#303070" stroke-width="1.0" />
<line x1="910.7" y1="565" x2="916.3" y2="565" stroke="#303070" stroke-width="1.0" />
<line x1="958.3" y1="577.1" x2="958.3" y2="585.1" stroke="#303070" stroke-width="1.0" />
<line x1="955.5" y1="577.1" x2="961.1" y2="577.1" stroke="#303070" stroke-width="1.0" />
<line x1="955.5" y1="585.1" x2="961.1" y2="585.1" stroke="#303070" stroke-width="1.0" />
<line x1="1018.9" y1="599.1" x2="1018.9" y2="607.1" stroke="#303070" stroke-width="1.0" />
<line x1="1016.1" y1="599.1" x2="1021.7" y2="599.1" stroke="#303070" stroke-width="1.0" />
<line x1="1016.1" y1="607.1" x2="1021.7" y2="607.1" stroke="#303070" stroke-width="1.0" />
<line x1="1087.9" y1="628.2" x2="1087.9" y2="636.2" stroke="#303070" stroke-width="1.0" />
<line x1="1085.1" y1="628.2" x2="1090.7" y2="628.2" stroke="#303070" stroke-width="1.0" />
<line x1="1085.1" y1="636.2" x2="1090.7" y2="636.2" stroke="#303070" stroke-width="1.0" />
<line x1="1150.3" y1="649.8" x2="1150.3" y2="657.8" stroke="#303070" stroke-width="1.0" />
<line x1="1147.5" y1="649.8" x2="1153.1" y2="649.8" stroke="#303070" stroke-width="1.0" />
<line x1="1147.5" y1="657.8" x2="1153.1" y2="657.8" stroke="#303070" stroke-width="1.0" />
<line x1="1150.3" y1="661.6" x2="1150.3" y2="669.6" stroke="#303070" stroke-width="1.0" />
<line x1="1147.5" y1="661.6" x2="1153.1" y2="661.6" stroke="#303070" stroke-width="1.0" />
<line x1="1147.5" y1="669.6" x2="1153.1" y2="669.6" stroke="#303070" stroke-width="1.0" />
<line x1="1190.5" y1="698.7" x2="1190.5" y2="706.7" stroke="#303070" stroke-width="1.0" />
<line x1="1187.7" y1="698.7" x2="1193.3" y2="698.7" stroke="#303070" stroke-width="1.0" />
<line x1="1187.7" y1="706.7" x2="1193.3" y2="706.7" stroke="#303070" stroke-width="1.0" />
<line x1="1196.7" y1="698.7" x2="1196.7" y2="706.7" stroke="#303070" stroke-width="1.0" />
<line x1="1193.9" y1="698.7" x2="1199.5" y2="698.7" stroke="#303070" stroke-width="1.0" />
<line x1="1193.9" y1="706.7" x2="1199.5" y2="706.7" stroke="#303070" stroke-width="1.0" />
<line x1="791.3" y1="758.5" x2="791.3" y2="765.5" stroke="#305a30" stroke-width="1.0" />
<line x1="788.5" y1="758.5" x2="794.1" y2="758.5" stroke="#305a30" stroke-width="1.0" />
<line x1="788.5" y1="765.5" x2="794.1" y2="765.5" stroke="#305a30" stroke-width="1.0" />
<line x1="827.5" y1="745.5" x2="827.5" y2="752.5" stroke="#305a30" stroke-width="1.0" />
<line x1="824.7" y1="745.5" x2="830.3" y2="745.5" stroke="#305a30" stroke-width="1.0" />
<line x1="824.7" y1="752.5" x2="830.3" y2="752.5" stroke="#305a30" stroke-width="1.0" />
<line x1="869.2" y1="714.5" x2="869.2" y2="721.5" stroke="#305a30" stroke-width="1.0" />
<line x1="866.4" y1="714.5" x2="872" y2="714.5" stroke="#305a30" stroke-width="1.0" />
<line x1="866.4" y1="721.5" x2="872" y2="721.5" stroke="#305a30" stroke-width="1.0" />
<line x1="913.5" y1="717.6" x2="913.5" y2="724.6" stroke="#305a30" stroke-width="1.0" />
<line x1="910.7" y1="717.6" x2="916.3" y2="717.6" stroke="#305a30" stroke-width="1.0" />
<line x1="910.7" y1="724.6" x2="916.3" y2="724.6" stroke="#305a30" stroke-width="1.0" />
<line x1="958.3" y1="727.5" x2="958.3" y2="734.5" stroke="#305a30" stroke-width="1.0" />
<line x1="955.5" y1="727.5" x2="961.1" y2="727.5" stroke="#305a30" stroke-width="1.0" />
<line x1="955.5" y1="734.5" x2="961.1" y2="734.5" stroke="#305a30" stroke-width="1.0" />
<line x1="1018.9" y1="732.7" x2="1018.9" y2="739.7" stroke="#305a30" stroke-width="1.0" />
<line x1="1016.1" y1="732.7" x2="1021.7" y2="732.7" stroke="#305a30" stroke-width="1.0" />
<line x1="1016.1" y1="739.7" x2="1021.7" y2="739.7" stroke="#305a30" stroke-width="1.0" />
<line x1="1087.9" y1="745.5" x2="1087.9" y2="752.5" stroke="#305a30" stroke-width="1.0" />
<line x1="1085.1" y1="745.5" x2="1090.7" y2="745.5" stroke="#305a30" stroke-width="1.0" />
<line x1="1085.1" y1="752.5" x2="1090.7" y2="752.5" stroke="#305a30" stroke-width="1.0" />
<line x1="1150.3" y1="748.7" x2="1150.3" y2="755.7" stroke="#305a30" stroke-width="1.0" />
<line x1="1147.5" y1="748.7" x2="1153.1" y2="748.7" stroke="#305a30" stroke-width="1.0" />
<line x1="1147.5" y1="755.7" x2="1153.1" y2="755.7" stroke="#305a30" stroke-width="1.0" />
<line x1="1150.3" y1="759.5" x2="1150.3" y2="766.5" stroke="#305a30" stroke-width="1.0" />
<line x1="1147.5" y1="759.5" x2="1153.1" y2="759.5" stroke="#305a30" stroke-width="1.0" />
<line x1="1147.5" y1="766.5" x2="1153.1" y2="766.5" stroke="#305a30" stroke-width="1.0" />
<line x1="1190.5" y1="781.1" x2="1190.5" y2="788.1" stroke="#305a30" stroke-width="1.0" />
<line x1="1187.7" y1="781.1" x2="1193.3" y2="781.1" stroke="#305a30" stroke-width="1.0" />
<line x1="1187.7" y1="788.1" x2="1193.3" y2="788.1" stroke="#305a30" stroke-width="1.0" />
<line x1="1195.2" y1="778" x2="1195.2" y2="785" stroke="#305a30" stroke-width="1.0" />
<line x1="1192.4" y1="778" x2="1198" y2="778" stroke="#305a30" stroke-width="1.0" />
<line x1="1192.4" y1="785" x2="1198" y2="785" stroke="#305a30" stroke-width="1.0" />
<polygon points="791.8,871.2 804.1,883.5 791.8,895.8 779.5,883.5" fill="#ff2010"/>
<polygon points="828,874.3 840.3,886.6 828,898.9 815.7,886.6" fill="#ff2010"/>
<polygon points="869.7,904.2 882,916.5 869.7,928.8 857.4,916.5" fill="#ff2010"/>
<polygon points="914,901.2 926.3,913.5 914,925.8 901.7,913.5" fill="#ff2010"/>
<polygon points="958.8,891.3 971.1,903.6 958.8,915.9 946.5,903.6" fill="#ff2010"/>
<polygon points="1019.4,894.5 1031.7,906.8 1019.4,919.1 1007.1,906.8" fill="#ff2010"/>
<polygon points="1088.4,904.4 1100.7,916.7 1088.4,929 1076.1,916.7" fill="#ff2010"/>
<polygon points="1143.1,891.4 1155.4,903.7 1143.1,916 1130.8,903.7" fill="#ff2010"/>
<polygon points="1152.4,891.4 1164.7,903.7 1152.4,916 1140.1,903.7" fill="#ff2010"/>
<polygon points="1189.5,842.2 1201.8,854.5 1189.5,866.8 1177.2,854.5" fill="#ff2010"/>
<polygon points="1196,838.2 1208.3,850.5 1196,862.8 1183.7,850.5" fill="#ff2010"/>
<text x="1214.2" y="688.3" font-family='"Liberation Sans", sans-serif' font-size="49" fill="#16108e" >T</text>
<text x="1244.2" y="694" font-family='"Liberation Sans", sans-serif' font-size="33" fill="#16108e" >N</text>
<text x="1214.2" y="784.1" font-family='"Liberation Sans", sans-serif' font-size="49" fill="#2d7d1d" >T</text>
<text x="1243.7" y="790.6" font-family='"Liberation Sans", sans-serif' font-size="33" fill="#2d7d1d" >r</text>
<text x="1214.2" y="875.9" font-family='"Liberation Sans", sans-serif' font-size="49" fill="#ff2010" >T</text>
<text x="1244.2" y="881" font-family='"Liberation Sans", sans-serif' font-size="33" fill="#ff2010" >C</text>
<path d="M806.8,1028.9 L1171.2,1321.6" fill="none" stroke="#d8101e" stroke-width="1.6" stroke-dasharray="10.5 10" stroke-dashoffset="0"/>
<circle cx="791.8" cy="1019.7" r="11" fill="#ff2010"/>
<circle cx="828.2" cy="1029.8" r="11" fill="#ff2010"/>
<circle cx="828.2" cy="1037.3" r="11" fill="#ff2010"/>
<circle cx="869.8" cy="1090" r="11" fill="#ff2010"/>
<circle cx="913.6" cy="1127.4" r="11" fill="#ff2010"/>
<circle cx="958.5" cy="1137.3" r="11" fill="#ff2010"/>
<circle cx="1019.5" cy="1177.8" r="11" fill="#ff2010"/>
<circle cx="1088.5" cy="1263.3" r="11" fill="#ff2010"/>
<circle cx="1143.6" cy="1308.6" r="11" fill="#ff2010"/>
<circle cx="1152.7" cy="1319.3" r="11" fill="#ff2010"/>
<circle cx="1150.7" cy="1332.3" r="11" fill="#ff2010"/>
<circle cx="1194.8" cy="1324.4" r="11" fill="#ff2010"/>
<circle cx="1188.9" cy="1334.2" r="11" fill="#ff2010"/>
<text transform="translate(48.7,127) rotate(-90)" x="0" y="0" font-family='"Liberation Sans", sans-serif' font-size="47" fill="#000" >(</text>
<text transform="translate(48.7,111) rotate(-90)" x="0" y="0" font-family='"Liberation Sans", sans-serif' font-size="40.5" fill="#000" >&#197;</text>
<text transform="translate(48.7,82) rotate(-90)" x="0" y="0" font-family='"Liberation Sans", sans-serif' font-size="47" fill="#000" >)</text>
<text transform="translate(48.4,575) rotate(-90)" x="0" y="0" font-family='"Liberation Sans", sans-serif' font-size="31" fill="#000" >(</text>
<text transform="translate(33,564.5) rotate(-90)" x="0" y="0" font-family='"Liberation Sans", sans-serif' font-size="24" fill="#000" >o</text>
<text transform="translate(48.4,551.2) rotate(-90)" x="0" y="0" font-family='"Liberation Sans", sans-serif' font-size="31" fill="#000" >)</text>
<text transform="translate(53.9,1300.5) rotate(-90)" x="0" y="0" font-family='"Liberation Sans", sans-serif' font-size="50.5" fill="#16108e" textLength="28.7" lengthAdjust="spacingAndGlyphs" >T</text>
<text transform="translate(70.4,1272) rotate(-90)" x="0" y="0" font-family='"Liberation Sans", sans-serif' font-size="32" fill="#16108e" >N</text>
<text transform="translate(53.4,1248.3) rotate(-90)" x="0" y="0" font-family='"Liberation Sans", sans-serif' font-size="47" fill="#000" >(</text>
<text transform="translate(53.9,1231.5) rotate(-90)" x="0" y="0" font-family='"Liberation Sans", sans-serif' font-size="50.5" fill="#32901f" textLength="28.7" lengthAdjust="spacingAndGlyphs" >T</text>
<text transform="translate(70.4,1203) rotate(-90)" x="0" y="0" font-family='"Liberation Sans", sans-serif' font-size="32" fill="#32901f" >r</text>
<text transform="translate(53.4,1191) rotate(-90)" x="0" y="0" font-family='"Liberation Sans", sans-serif' font-size="47" fill="#000" >)</text>
<text transform="translate(53.4,1176.5) rotate(-90)" x="0" y="0" font-family='"Liberation Sans", sans-serif' font-size="47" fill="#000" >/</text>
<path d="M4.6,1092.4 L4.6,1135.7 L53.4,1143.4 L27.9,1155 L30.2,1160.5" fill="none" stroke="#000" stroke-width="2.6" stroke-linejoin="miter"/>
<text transform="translate(53.9,1135) rotate(-90)" x="0" y="0" font-family='"Liberation Sans", sans-serif' font-size="50.5" fill="#000" textLength="38.6" lengthAdjust="spacingAndGlyphs" >M</text>
<text x="341.5" y="1532.3" font-family='"Liberation Sans", sans-serif' font-size="58" fill="#000" textLength="22" lengthAdjust="spacingAndGlyphs" font-style="italic" >r</text>
<text x="362.5" y="1546.8" font-family='"Liberation Sans", sans-serif' font-size="38" fill="#000" textLength="66" lengthAdjust="spacingAndGlyphs" >&lt;A&gt;</text>
<text x="443.5" y="1532.3" font-family='"Liberation Sans", sans-serif' font-size="46" fill="#000" >(</text>
<text x="460.5" y="1532.3" font-family='"Liberation Sans", sans-serif' font-size="55" fill="#000" textLength="39.5" lengthAdjust="spacingAndGlyphs" >&#197;</text>
<text x="502" y="1532.3" font-family='"Liberation Sans", sans-serif' font-size="46" fill="#000" >)</text>
<text x="926" y="1532.3" font-family='"Liberation Sans", sans-serif' font-size="58" fill="#000" textLength="22" lengthAdjust="spacingAndGlyphs" font-style="italic" >r</text>
<text x="947" y="1546.8" font-family='"Liberation Sans", sans-serif' font-size="38" fill="#000" textLength="66" lengthAdjust="spacingAndGlyphs" >&lt;A&gt;</text>
<text x="1028" y="1532.3" font-family='"Liberation Sans", sans-serif' font-size="46" fill="#000" >(</text>
<text x="1045" y="1532.3" font-family='"Liberation Sans", sans-serif' font-size="55" fill="#000" textLength="39.5" lengthAdjust="spacingAndGlyphs" >&#197;</text>
<text x="1086.5" y="1532.3" font-family='"Liberation Sans", sans-serif' font-size="46" fill="#000" >)</text>
<text transform="translate(1424.8,451.5) rotate(-90)" x="0" y="0" font-family='"Liberation Sans", sans-serif' font-size="39.1" fill="#000" >Magnetic moment M</text>
<text transform="translate(1424.8,85.5) rotate(-90)" x="0" y="0" font-family='"Liberation Sans", sans-serif' font-size="45.6" fill="#000" >(</text>
<text transform="translate(1424.8,70.5) rotate(-90)" x="0" y="0" font-family='"Liberation Sans", sans-serif' font-size="38.5" fill="#000" textLength="26.5" lengthAdjust="spacingAndGlyphs" >&#956;</text>
<text transform="translate(1439.8,45.1) rotate(-90)" x="0" y="0" font-family='"Liberation Sans", sans-serif' font-size="31" fill="#000" >B</text>
<text transform="translate(1424.8,21.6) rotate(-90)" x="0" y="0" font-family='"Liberation Sans", sans-serif' font-size="45.6" fill="#000" >)</text>
<text transform="translate(1425.6,833) rotate(-90)" x="0" y="0" font-family='"Liberation Sans", sans-serif' font-size="40" fill="#16108e" >T</text>
<text transform="translate(1438,808.7) rotate(-90)" x="0" y="0" font-family='"Liberation Sans", sans-serif' font-size="27" fill="#16108e" >N</text>
<text transform="translate(1425.6,790.7) rotate(-90)" x="0" y="0" font-family='"Liberation Sans", sans-serif' font-size="40" fill="#000" >,</text>
<text transform="translate(1425.6,767.2) rotate(-90)" x="0" y="0" font-family='"Liberation Sans", sans-serif' font-size="40" fill="#2d7d1d" >T</text>
<text transform="translate(1438,742.6) rotate(-90)" x="0" y="0" font-family='"Liberation Sans", sans-serif' font-size="27" fill="#2d7d1d" >r</text>
<text transform="translate(1425.6,725.7) rotate(-90)" x="0" y="0" font-family='"Liberation Sans", sans-serif' font-size="40" fill="#000" >,</text>
<text transform="translate(1425.6,702.3) rotate(-90)" x="0" y="0" font-family='"Liberation Sans", sans-serif' font-size="40" fill="#ff2010" >T</text>
<text transform="translate(1438.5,678) rotate(-90)" x="0" y="0" font-family='"Liberation Sans", sans-serif' font-size="26" fill="#ff2010" >C</text>
<text transform="translate(1425.6,659) rotate(-90)" x="0" y="0" font-family='"Liberation Sans", sans-serif' font-size="40" fill="#000" >(</text>
<text transform="translate(1425.6,646.3) rotate(-90)" x="0" y="0" font-family='"Liberation Sans", sans-serif' font-size="40" fill="#000" >K</text>
<text transform="translate(1425.6,616.3) rotate(-90)" x="0" y="0" font-family='"Liberation Sans", sans-serif' font-size="40" fill="#000" >)</text>
<text transform="translate(1427.4,1376.8) rotate(-90)" x="0" y="0" font-family='"Liberation Sans", sans-serif' font-size="38.5" fill="#000" >sin(</text>
<text transform="translate(1427.4,1311) rotate(-90)" x="0" y="0" font-family='"Liberation Serif", serif' font-size="38.5" fill="#000" >&#945;</text>
<text transform="translate(1427.4,1287.7) rotate(-90)" x="0" y="0" font-family='"Liberation Sans", sans-serif' font-size="38.5" fill="#000" >)sin(</text>
<text transform="translate(1427.4,1212) rotate(-90)" x="0" y="0" font-family='"Liberation Serif", serif' font-size="38.5" fill="#000" >&#946;</text>
<text transform="translate(1427.4,1190.3) rotate(-90)" x="0" y="0" font-family='"Liberation Sans", sans-serif' font-size="38.5" fill="#000" >)/</text>
<path d="M1387.7,1045.9 L1387.7,1142.8 L1427.1,1149.3 L1405.7,1158.6 L1407.9,1163.6" fill="none" stroke="#000" stroke-width="2.4" stroke-linejoin="miter"/>
<text transform="translate(1427.6,1141.3) rotate(-90)" x="0" y="0" font-family='"Liberation Sans", sans-serif' font-size="38.5" fill="#000" >d</text>
<text transform="translate(1441.3,1119.6) rotate(-90)" x="0" y="0" font-family='"Liberation Sans", sans-serif' font-size="25.5" fill="#000" >Fe-As</text>
</svg></body></html>
